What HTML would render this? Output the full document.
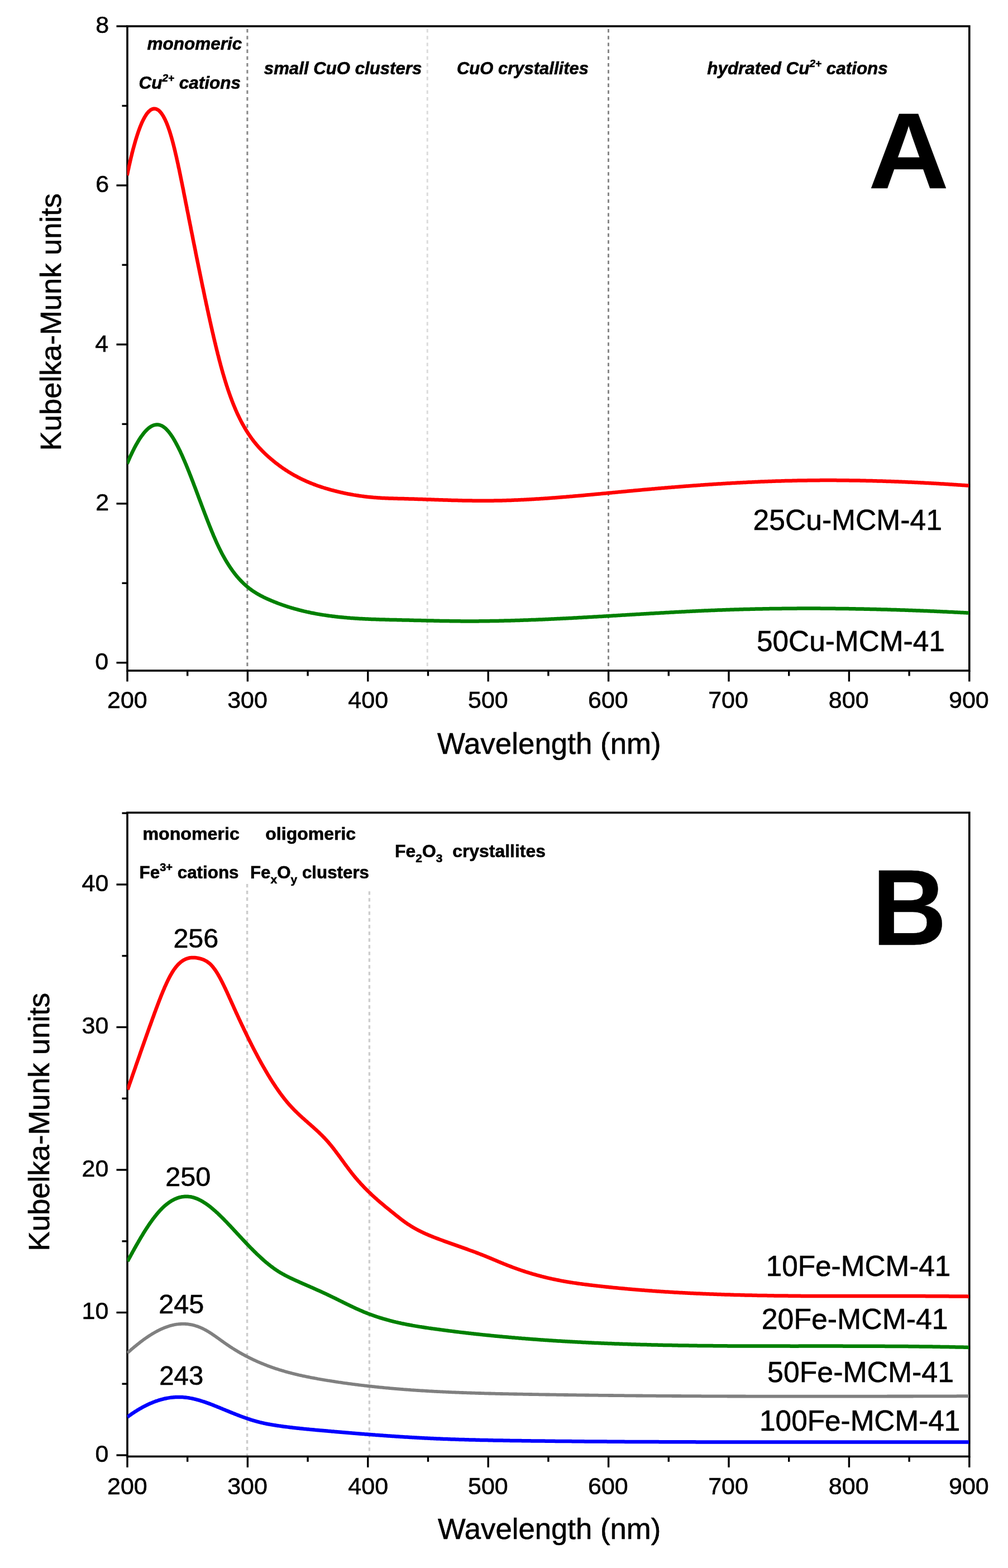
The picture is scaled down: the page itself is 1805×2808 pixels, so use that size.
<!DOCTYPE html>
<html><head><meta charset="utf-8"><title>Kubelka-Munk spectra</title>
<style>html,body{margin:0;padding:0;background:#fff;}svg{display:block;}#wrap{}text{stroke:#000;stroke-width:0.6px;}</style>
</head><body><div id="wrap">
<svg xmlns="http://www.w3.org/2000/svg" width="1805" height="2808" viewBox="0 0 1805 2808">
<rect width="1805" height="2808" fill="#fff"/>
<line x1="442.9" y1="52" x2="442.9" y2="1199.5" stroke="#888" stroke-width="3" stroke-dasharray="6.3 5.9" stroke-dashoffset="0"/>
<line x1="765.3" y1="52" x2="765.3" y2="1199.5" stroke="#dcdcdc" stroke-width="3" stroke-dasharray="6.3 5.9" stroke-dashoffset="0"/>
<line x1="1089.5" y1="52" x2="1089.5" y2="1199.5" stroke="#888" stroke-width="3" stroke-dasharray="6.3 5.9" stroke-dashoffset="0"/>
<line x1="442.6" y1="1583" x2="442.6" y2="2606.8" stroke="#cdcdcd" stroke-width="3.4" stroke-dasharray="6.3 5.7" stroke-dashoffset="0"/>
<line x1="661.4" y1="1596.3" x2="661.4" y2="2606.8" stroke="#cdcdcd" stroke-width="3.4" stroke-dasharray="6.3 5.7" stroke-dashoffset="0"/>
<line x1="228" y1="1201" x2="228" y2="1220.5" stroke="#000" stroke-width="3.4"/>
<line x1="443.4" y1="1201" x2="443.4" y2="1220.5" stroke="#000" stroke-width="3.4"/>
<line x1="658.8" y1="1201" x2="658.8" y2="1220.5" stroke="#000" stroke-width="3.4"/>
<line x1="874.2" y1="1201" x2="874.2" y2="1220.5" stroke="#000" stroke-width="3.4"/>
<line x1="1089.6" y1="1201" x2="1089.6" y2="1220.5" stroke="#000" stroke-width="3.4"/>
<line x1="1305" y1="1201" x2="1305" y2="1220.5" stroke="#000" stroke-width="3.4"/>
<line x1="1520.4" y1="1201" x2="1520.4" y2="1220.5" stroke="#000" stroke-width="3.4"/>
<line x1="1735.8" y1="1201" x2="1735.8" y2="1220.5" stroke="#000" stroke-width="3.4"/>
<line x1="335.7" y1="1201" x2="335.7" y2="1210.5" stroke="#000" stroke-width="3.4"/>
<line x1="551.1" y1="1201" x2="551.1" y2="1210.5" stroke="#000" stroke-width="3.4"/>
<line x1="766.5" y1="1201" x2="766.5" y2="1210.5" stroke="#000" stroke-width="3.4"/>
<line x1="981.9" y1="1201" x2="981.9" y2="1210.5" stroke="#000" stroke-width="3.4"/>
<line x1="1197.3" y1="1201" x2="1197.3" y2="1210.5" stroke="#000" stroke-width="3.4"/>
<line x1="1412.7" y1="1201" x2="1412.7" y2="1210.5" stroke="#000" stroke-width="3.4"/>
<line x1="1628.1" y1="1201" x2="1628.1" y2="1210.5" stroke="#000" stroke-width="3.4"/>
<line x1="228" y1="2608.3" x2="228" y2="2627.8" stroke="#000" stroke-width="3.4"/>
<line x1="443.4" y1="2608.3" x2="443.4" y2="2627.8" stroke="#000" stroke-width="3.4"/>
<line x1="658.8" y1="2608.3" x2="658.8" y2="2627.8" stroke="#000" stroke-width="3.4"/>
<line x1="874.2" y1="2608.3" x2="874.2" y2="2627.8" stroke="#000" stroke-width="3.4"/>
<line x1="1089.6" y1="2608.3" x2="1089.6" y2="2627.8" stroke="#000" stroke-width="3.4"/>
<line x1="1305" y1="2608.3" x2="1305" y2="2627.8" stroke="#000" stroke-width="3.4"/>
<line x1="1520.4" y1="2608.3" x2="1520.4" y2="2627.8" stroke="#000" stroke-width="3.4"/>
<line x1="1735.8" y1="2608.3" x2="1735.8" y2="2627.8" stroke="#000" stroke-width="3.4"/>
<line x1="335.7" y1="2608.3" x2="335.7" y2="2617.8" stroke="#000" stroke-width="3.4"/>
<line x1="551.1" y1="2608.3" x2="551.1" y2="2617.8" stroke="#000" stroke-width="3.4"/>
<line x1="766.5" y1="2608.3" x2="766.5" y2="2617.8" stroke="#000" stroke-width="3.4"/>
<line x1="981.9" y1="2608.3" x2="981.9" y2="2617.8" stroke="#000" stroke-width="3.4"/>
<line x1="1197.3" y1="2608.3" x2="1197.3" y2="2617.8" stroke="#000" stroke-width="3.4"/>
<line x1="1412.7" y1="2608.3" x2="1412.7" y2="2617.8" stroke="#000" stroke-width="3.4"/>
<line x1="1628.1" y1="2608.3" x2="1628.1" y2="2617.8" stroke="#000" stroke-width="3.4"/>
<line x1="208.5" y1="1186.8" x2="228" y2="1186.8" stroke="#000" stroke-width="3.4"/>
<line x1="208.5" y1="901.9" x2="228" y2="901.9" stroke="#000" stroke-width="3.4"/>
<line x1="208.5" y1="616.9" x2="228" y2="616.9" stroke="#000" stroke-width="3.4"/>
<line x1="208.5" y1="332" x2="228" y2="332" stroke="#000" stroke-width="3.4"/>
<line x1="208.5" y1="47" x2="228" y2="47" stroke="#000" stroke-width="3.4"/>
<line x1="218.5" y1="1044.3" x2="228" y2="1044.3" stroke="#000" stroke-width="3.4"/>
<line x1="218.5" y1="759.4" x2="228" y2="759.4" stroke="#000" stroke-width="3.4"/>
<line x1="218.5" y1="474.4" x2="228" y2="474.4" stroke="#000" stroke-width="3.4"/>
<line x1="218.5" y1="189.5" x2="228" y2="189.5" stroke="#000" stroke-width="3.4"/>
<line x1="208.5" y1="2606" x2="228" y2="2606" stroke="#000" stroke-width="3.4"/>
<line x1="208.5" y1="2350.5" x2="228" y2="2350.5" stroke="#000" stroke-width="3.4"/>
<line x1="208.5" y1="2095" x2="228" y2="2095" stroke="#000" stroke-width="3.4"/>
<line x1="208.5" y1="1839.5" x2="228" y2="1839.5" stroke="#000" stroke-width="3.4"/>
<line x1="208.5" y1="1584" x2="228" y2="1584" stroke="#000" stroke-width="3.4"/>
<line x1="218.5" y1="2478.2" x2="228" y2="2478.2" stroke="#000" stroke-width="3.4"/>
<line x1="218.5" y1="2222.8" x2="228" y2="2222.8" stroke="#000" stroke-width="3.4"/>
<line x1="218.5" y1="1967.2" x2="228" y2="1967.2" stroke="#000" stroke-width="3.4"/>
<line x1="218.5" y1="1711.8" x2="228" y2="1711.8" stroke="#000" stroke-width="3.4"/>
<line x1="218.5" y1="1456.2" x2="228" y2="1456.2" stroke="#000" stroke-width="3.4"/>
<rect x="228" y="47" width="1507.8" height="1154" fill="none" stroke="#000" stroke-width="3.6"/>
<rect x="228" y="1455.3" width="1507.8" height="1153" fill="none" stroke="#000" stroke-width="3.6"/>
<defs><clipPath id="ca"><rect x="227.6" y="47.0" width="1507.6000000000001" height="1154.0"/></clipPath>
<clipPath id="cb"><rect x="227.6" y="1455.3" width="1507.6000000000001" height="1153.0000000000002"/></clipPath></defs>
<path d="M227.6 314L227.9 312.5L228.2 311.1L228.5 309.6L228.8 308.2L229.1 306.7L229.4 305.2L229.7 303.8L230.1 302.3L230.4 300.8L230.7 299.4L231 297.9L231.3 296.5L231.7 295L232 293.5L232.3 292.1L232.7 290.6L233 289.2L233.3 287.7L233.7 286.3L234 284.8L234.3 283.4L234.7 281.9L235 280.4L235.4 279L235.8 277.5L236.1 276.1L236.5 274.6L236.8 273.2L237.2 271.7L237.6 270.3L237.9 268.9L238.3 267.4L238.7 266L239.1 264.5L239.5 263.1L239.9 261.6L240.3 260.2L240.7 258.8L241.1 257.3L241.5 255.9L241.9 254.5L242.3 253L242.7 251.6L243.2 250.2L243.6 248.7L244 247.3L244.5 245.9L244.9 244.5L245.4 243L245.8 241.6L246.3 240.2L246.8 238.8L247.2 237.4L247.7 236L248.2 234.6L248.7 233.2L249.2 231.8L249.7 230.4L250.3 229L250.8 227.6L251.3 226.2L251.9 224.8L252.5 223.5L253 222.1L253.6 220.7L254.2 219.4L254.8 218L255.5 216.7L256.1 215.4L256.8 214L257.5 212.7L258.2 211.4L258.9 210.1L259.6 208.9L260.4 207.6L261.2 206.4L262 205.1L262.8 203.9L263.7 202.8L264.7 201.6L265.6 200.5L266.7 199.5L267.7 198.5L268.9 197.6L270 196.7L271.3 196L272.6 195.4L274.1 195L275.5 194.7L277 194.7L278.5 194.9L280 195.3L281.4 196L282.7 196.7L284 197.6L285.2 198.6L286.3 199.7L287.3 200.8L288.3 202L289.2 203.2L290.1 204.5L291 205.8L291.8 207.1L292.6 208.4L293.3 209.7L294 211.1L294.7 212.4L295.4 213.8L296.1 215.2L296.7 216.6L297.3 217.9L297.9 219.3L298.5 220.7L299.1 222.1L299.6 223.6L300.2 225L300.7 226.4L301.2 227.8L301.7 229.2L302.2 230.7L302.7 232.1L303.2 233.5L303.7 235L304.1 236.4L304.6 237.9L305 239.3L305.5 240.8L305.9 242.2L306.3 243.7L306.8 245.1L307.2 246.6L307.6 248L308 249.5L308.4 250.9L308.8 252.4L309.2 253.8L309.6 255.3L309.9 256.7L310.3 258.2L310.7 259.7L311.1 261.1L311.4 262.6L311.8 264L312.2 265.5L312.5 267L312.9 268.4L313.2 269.9L313.6 271.4L313.9 272.8L314.3 274.3L314.6 275.8L314.9 277.2L315.3 278.7L315.6 280.2L316 281.6L316.3 283.1L316.6 284.6L316.9 286L317.3 287.5L317.6 289L317.9 290.4L318.2 291.9L318.6 293.4L318.9 294.8L319.2 296.3L319.5 297.8L319.8 299.3L320.1 300.7L320.5 302.2L320.8 303.7L321.1 305.1L321.4 306.6L321.7 308.1L322 309.5L322.3 311L322.6 312.5L322.9 314L323.2 315.4L323.5 316.9L323.8 318.4L324.1 319.8L324.4 321.3L324.7 322.8L325 324.3L325.3 325.7L325.6 327.2L325.9 328.7L326.2 330.1L326.5 331.6L326.8 333.1L327.1 334.6L327.4 336L327.7 337.5L328 339L328.3 340.4L328.6 341.9L328.8 343.4L329.1 344.9L329.4 346.3L329.7 347.8L330 349.3L330.3 350.8L330.6 352.2L330.9 353.7L331.2 355.2L331.5 356.6L331.8 358.1L332 359.6L332.3 361.1L332.6 362.5L332.9 364L333.2 365.5L333.5 366.9L333.8 368.4L334.1 369.9L334.4 371.4L334.7 372.8L334.9 374.3L335.2 375.8L335.5 377.2L335.8 378.7L336.1 380.2L336.4 381.7L336.7 383.1L337 384.6L337.3 386.1L337.6 387.5L337.9 389L338.1 390.5L338.4 392L338.7 393.4L339 394.9L339.3 396.4L339.6 397.8L339.9 399.3L340.2 400.8L340.5 402.3L340.8 403.7L341.1 405.2L341.4 406.7L341.6 408.1L341.9 409.6L342.2 411.1L342.5 412.6L342.8 414L343.1 415.5L343.4 417L343.7 418.4L344 419.9L344.3 421.4L344.6 422.8L344.9 424.3L345.2 425.8L345.4 427.3L345.7 428.7L346 430.2L346.3 431.7L346.6 433.1L346.9 434.6L347.2 436.1L347.5 437.6L347.8 439L348.1 440.5L348.4 442L348.7 443.4L349 444.9L349.3 446.4L349.6 447.8L349.9 449.3L350.2 450.8L350.4 452.3L350.7 453.7L351 455.2L351.3 456.7L351.6 458.1L351.9 459.6L352.2 461.1L352.5 462.5L352.8 464L353.1 465.5L353.4 467L353.7 468.4L354 469.9L354.3 471.4L354.6 472.8L354.9 474.3L355.2 475.8L355.5 477.2L355.8 478.7L356.1 480.2L356.4 481.7L356.7 483.1L357 484.6L357.3 486.1L357.6 487.5L357.9 489L358.2 490.5L358.5 491.9L358.8 493.4L359.1 494.9L359.4 496.3L359.7 497.8L360 499.3L360.3 500.7L360.6 502.2L360.9 503.7L361.2 505.2L361.5 506.6L361.8 508.1L362.1 509.6L362.4 511L362.7 512.5L363 514L363.3 515.4L363.7 516.9L364 518.4L364.3 519.8L364.6 521.3L364.9 522.8L365.2 524.2L365.5 525.7L365.8 527.2L366.1 528.6L366.4 530.1L366.7 531.6L367 533L367.3 534.5L367.7 536L368 537.4L368.3 538.9L368.6 540.4L368.9 541.8L369.2 543.3L369.5 544.8L369.8 546.2L370.2 547.7L370.5 549.2L370.8 550.6L371.1 552.1L371.4 553.6L371.7 555L372.1 556.5L372.4 558L372.7 559.4L373 560.9L373.3 562.3L373.6 563.8L374 565.3L374.3 566.7L374.6 568.2L374.9 569.7L375.3 571.1L375.6 572.6L375.9 574.1L376.2 575.5L376.6 577L376.9 578.4L377.2 579.9L377.5 581.4L377.9 582.8L378.2 584.3L378.5 585.8L378.9 587.2L379.2 588.7L379.5 590.1L379.8 591.6L380.2 593.1L380.5 594.5L380.9 596L381.2 597.4L381.5 598.9L381.9 600.4L382.2 601.8L382.5 603.3L382.9 604.7L383.2 606.2L383.6 607.6L383.9 609.1L384.3 610.6L384.6 612L385 613.5L385.3 614.9L385.7 616.4L386 617.8L386.4 619.3L386.7 620.8L387.1 622.2L387.4 623.7L387.8 625.1L388.1 626.6L388.5 628L388.9 629.5L389.2 630.9L389.6 632.4L389.9 633.8L390.3 635.3L390.7 636.7L391.1 638.2L391.4 639.6L391.8 641.1L392.2 642.5L392.5 644L392.9 645.4L393.3 646.9L393.7 648.3L394.1 649.8L394.5 651.2L394.8 652.7L395.2 654.1L395.6 655.6L396 657L396.4 658.4L396.8 659.9L397.2 661.3L397.6 662.8L398 664.2L398.4 665.6L398.8 667.1L399.2 668.5L399.6 670L400.1 671.4L400.5 672.8L400.9 674.3L401.3 675.7L401.8 677.1L402.2 678.6L402.6 680L403.1 681.4L403.5 682.9L403.9 684.3L404.4 685.7L404.8 687.1L405.3 688.6L405.7 690L406.2 691.4L406.7 692.8L407.1 694.2L407.6 695.7L408.1 697.1L408.5 698.5L409 699.9L409.5 701.3L410 702.7L410.5 704.2L411 705.6L411.5 707L412 708.4L412.5 709.8L413 711.2L413.5 712.6L414 714L414.6 715.4L415.1 716.8L415.6 718.2L416.2 719.6L416.7 721L417.2 722.4L417.8 723.7L418.3 725.1L418.9 726.5L419.5 727.9L420.1 729.3L420.6 730.6L421.2 732L421.8 733.4L422.4 734.8L423 736.1L423.6 737.5L424.2 738.9L424.8 740.2L425.4 741.6L426.1 742.9L426.7 744.3L427.4 745.6L428 747L428.7 748.3L429.3 749.7L430 751L430.7 752.3L431.3 753.6L432 755L432.7 756.3L433.4 757.6L434.1 758.9L434.8 760.2L435.6 761.5L436.3 762.8L437 764.1L437.8 765.4L438.5 766.7L439.3 768L440.1 769.3L440.8 770.6L441.6 771.8L442.4 773.1L443.2 774.3L444 775.6L444.8 776.8L445.7 778.1L446.5 779.3L447.4 780.6L448.2 781.8L449.1 783L449.9 784.2L450.8 785.4L451.7 786.6L452.6 787.8L453.5 789L454.4 790.2L455.3 791.4L456.3 792.5L457.2 793.7L458.2 794.8L459.1 796L460.1 797.1L461.1 798.2L462 799.4L463 800.5L464 801.6L465.1 802.7L466.1 803.8L467.1 804.9L468.1 805.9L469.2 807L470.2 808.1L471.3 809.1L472.4 810.2L473.4 811.2L474.5 812.3L475.6 813.3L476.7 814.3L477.8 815.3L478.9 816.3L480 817.3L481.1 818.3L482.2 819.3L483.4 820.3L484.5 821.3L485.6 822.2L486.8 823.2L487.9 824.2L489.1 825.1L490.2 826.1L491.4 827L492.6 828L493.7 828.9L494.9 829.8L496.1 830.7L497.3 831.6L498.5 832.5L499.7 833.4L500.9 834.3L502.1 835.2L503.3 836.1L504.5 836.9L505.8 837.8L507 838.7L508.2 839.5L509.5 840.3L510.7 841.2L512 842L513.2 842.8L514.5 843.6L515.7 844.4L517 845.2L518.3 846L519.6 846.8L520.9 847.6L522.1 848.3L523.4 849.1L524.7 849.8L526 850.6L527.3 851.3L528.6 852L530 852.7L531.3 853.4L532.6 854.1L533.9 854.8L535.3 855.5L536.6 856.2L537.9 856.9L539.3 857.5L540.6 858.2L542 858.8L543.3 859.5L544.7 860.1L546.1 860.7L547.4 861.3L548.8 862L550.2 862.6L551.5 863.1L552.9 863.7L554.3 864.3L555.7 864.9L557.1 865.4L558.5 866L559.9 866.5L561.3 867.1L562.7 867.6L564.1 868.1L565.5 868.7L566.9 869.2L568.3 869.7L569.7 870.2L571.1 870.7L572.5 871.1L574 871.6L575.4 872.1L576.8 872.6L578.2 873L579.7 873.5L581.1 873.9L582.5 874.4L584 874.8L585.4 875.2L586.8 875.6L588.3 876L589.7 876.5L591.2 876.9L592.6 877.3L594.1 877.7L595.5 878L597 878.4L598.4 878.8L599.9 879.2L601.3 879.5L602.8 879.9L604.2 880.3L605.7 880.6L607.1 881L608.6 881.3L610.1 881.7L611.5 882L613 882.3L614.4 882.6L615.9 883L617.4 883.3L618.8 883.6L620.3 883.9L621.8 884.2L623.3 884.5L624.7 884.7L626.2 885L627.7 885.3L629.2 885.6L630.6 885.8L632.1 886.1L633.6 886.4L635.1 886.6L636.5 886.8L638 887.1L639.5 887.3L641 887.5L642.5 887.8L644 888L645.4 888.2L646.9 888.4L648.4 888.6L649.9 888.8L651.4 889L652.9 889.2L654.4 889.4L655.8 889.5L657.3 889.7L658.8 889.9L660.3 890L661.8 890.2L663.3 890.3L664.8 890.5L666.3 890.6L667.8 890.7L669.3 890.9L670.8 891L672.3 891.1L673.8 891.2L675.3 891.3L676.8 891.4L678.3 891.5L679.7 891.6L681.2 891.7L682.7 891.8L684.2 891.9L685.7 891.9L687.2 892L688.7 892.1L690.2 892.2L691.7 892.2L693.2 892.3L694.7 892.3L696.2 892.4L697.7 892.4L699.2 892.5L700.7 892.5L702.2 892.6L703.7 892.6L705.2 892.7L706.7 892.7L708.2 892.7L709.7 892.8L711.2 892.8L712.7 892.9L714.2 892.9L715.7 892.9L717.2 893L718.7 893L720.2 893L721.7 893.1L723.2 893.1L724.7 893.2L726.2 893.2L727.7 893.2L729.2 893.3L730.7 893.3L732.2 893.4L733.7 893.4L735.2 893.5L736.7 893.5L738.2 893.5L739.7 893.6L741.2 893.6L742.7 893.7L744.2 893.7L745.7 893.8L747.2 893.8L748.7 893.9L750.2 893.9L751.7 894L753.2 894L754.7 894.1L756.2 894.1L757.7 894.2L759.2 894.2L760.7 894.3L762.2 894.3L763.7 894.4L765.2 894.4L766.7 894.5L768.2 894.5L769.7 894.6L771.2 894.6L772.7 894.7L774.2 894.7L775.7 894.8L777.2 894.8L778.7 894.9L780.2 894.9L781.7 895L783.2 895.1L784.7 895.1L786.2 895.2L787.7 895.2L789.2 895.3L790.7 895.3L792.2 895.3L793.7 895.4L795.2 895.4L796.7 895.5L798.2 895.5L799.7 895.6L801.2 895.6L802.7 895.7L804.2 895.7L805.7 895.8L807.2 895.8L808.7 895.9L810.2 895.9L811.7 895.9L813.2 896L814.7 896L816.2 896.1L817.7 896.1L819.2 896.1L820.7 896.2L822.2 896.2L823.7 896.2L825.2 896.3L826.7 896.3L828.2 896.4L829.7 896.4L831.2 896.4L832.7 896.4L834.2 896.5L835.7 896.5L837.2 896.5L838.7 896.6L840.2 896.6L841.7 896.6L843.2 896.6L844.7 896.6L846.2 896.7L847.7 896.7L849.2 896.7L850.7 896.7L852.2 896.7L853.7 896.7L855.2 896.7L856.7 896.8L858.2 896.8L859.7 896.8L861.2 896.8L862.7 896.8L864.2 896.8L865.7 896.8L867.2 896.8L868.7 896.8L870.2 896.8L871.7 896.8L873.2 896.8L874.7 896.7L876.2 896.7L877.7 896.7L879.2 896.7L880.7 896.7L882.2 896.7L883.7 896.7L885.2 896.6L886.7 896.6L888.2 896.6L889.7 896.6L891.2 896.5L892.7 896.5L894.2 896.5L895.7 896.4L897.2 896.4L898.7 896.4L900.2 896.3L901.7 896.3L903.2 896.2L904.7 896.2L906.2 896.2L907.7 896.1L909.2 896.1L910.7 896L912.2 896L913.7 895.9L915.2 895.9L916.7 895.8L918.2 895.7L919.7 895.7L921.2 895.6L922.7 895.6L924.1 895.5L925.6 895.4L927.1 895.4L928.6 895.3L930.1 895.2L931.6 895.2L933.1 895.1L934.6 895L936.1 895L937.6 894.9L939.1 894.8L940.6 894.7L942.1 894.7L943.6 894.6L945.1 894.5L946.6 894.4L948.1 894.3L949.6 894.3L951.1 894.2L952.6 894.1L954.1 894L955.6 893.9L957.1 893.8L958.6 893.7L960.1 893.6L961.6 893.6L963.1 893.5L964.6 893.4L966.1 893.3L967.6 893.2L969.1 893.1L970.6 893L972.1 892.9L973.6 892.8L975.1 892.7L976.6 892.6L978.1 892.5L979.6 892.4L981.1 892.3L982.6 892.2L984 892L985.5 891.9L987 891.8L988.5 891.7L990 891.6L991.5 891.5L993 891.4L994.5 891.3L996 891.2L997.5 891L999 890.9L1000.5 890.8L1002 890.7L1003.5 890.6L1005 890.5L1006.5 890.3L1008 890.2L1009.5 890.1L1011 890L1012.5 889.9L1014 889.7L1015.5 889.6L1016.9 889.5L1018.4 889.4L1019.9 889.2L1021.4 889.1L1022.9 889L1024.4 888.9L1025.9 888.7L1027.4 888.6L1028.9 888.5L1030.4 888.3L1031.9 888.2L1033.4 888.1L1034.9 887.9L1036.4 887.8L1037.9 887.7L1039.4 887.6L1040.9 887.4L1042.4 887.3L1043.8 887.2L1045.3 887L1046.8 886.9L1048.3 886.7L1049.8 886.6L1051.3 886.5L1052.8 886.3L1054.3 886.2L1055.8 886.1L1057.3 885.9L1058.8 885.8L1060.3 885.7L1061.8 885.5L1063.3 885.4L1064.8 885.2L1066.3 885.1L1067.7 885L1069.2 884.8L1070.7 884.7L1072.2 884.5L1073.7 884.4L1075.2 884.3L1076.7 884.1L1078.2 884L1079.7 883.8L1081.2 883.7L1082.7 883.6L1084.2 883.4L1085.7 883.3L1087.2 883.1L1088.7 883L1090.1 882.8L1091.6 882.7L1093.1 882.6L1094.6 882.4L1096.1 882.3L1097.6 882.1L1099.1 882L1100.6 881.9L1102.1 881.7L1103.6 881.6L1105.1 881.4L1106.6 881.3L1108.1 881.1L1109.6 881L1111.1 880.9L1112.5 880.7L1114 880.6L1115.5 880.4L1117 880.3L1118.5 880.2L1120 880L1121.5 879.9L1123 879.7L1124.5 879.6L1126 879.5L1127.5 879.3L1129 879.2L1130.5 879L1132 878.9L1133.5 878.8L1134.9 878.6L1136.4 878.5L1137.9 878.3L1139.4 878.2L1140.9 878.1L1142.4 877.9L1143.9 877.8L1145.4 877.7L1146.9 877.5L1148.4 877.4L1149.9 877.2L1151.4 877.1L1152.9 877L1154.4 876.8L1155.9 876.7L1157.4 876.6L1158.9 876.4L1160.3 876.3L1161.8 876.2L1163.3 876L1164.8 875.9L1166.3 875.8L1167.8 875.6L1169.3 875.5L1170.8 875.4L1172.3 875.3L1173.8 875.1L1175.3 875L1176.8 874.9L1178.3 874.7L1179.8 874.6L1181.3 874.5L1182.8 874.4L1184.3 874.2L1185.7 874.1L1187.2 874L1188.7 873.9L1190.2 873.7L1191.7 873.6L1193.2 873.5L1194.7 873.4L1196.2 873.2L1197.7 873.1L1199.2 873L1200.7 872.9L1202.2 872.7L1203.7 872.6L1205.2 872.5L1206.7 872.4L1208.2 872.3L1209.7 872.1L1211.2 872L1212.7 871.9L1214.2 871.8L1215.6 871.7L1217.1 871.5L1218.6 871.4L1220.1 871.3L1221.6 871.2L1223.1 871.1L1224.6 871L1226.1 870.8L1227.6 870.7L1229.1 870.6L1230.6 870.5L1232.1 870.4L1233.6 870.3L1235.1 870.2L1236.6 870L1238.1 869.9L1239.6 869.8L1241.1 869.7L1242.6 869.6L1244.1 869.5L1245.6 869.4L1247.1 869.3L1248.6 869.2L1250.1 869.1L1251.5 869L1253 868.9L1254.5 868.7L1256 868.6L1257.5 868.5L1259 868.4L1260.5 868.3L1262 868.2L1263.5 868.1L1265 868L1266.5 867.9L1268 867.8L1269.5 867.7L1271 867.6L1272.5 867.5L1274 867.4L1275.5 867.3L1277 867.2L1278.5 867.1L1280 867L1281.5 866.9L1283 866.8L1284.5 866.7L1286 866.6L1287.5 866.6L1289 866.5L1290.5 866.4L1292 866.3L1293.5 866.2L1295 866.1L1296.4 866L1297.9 865.9L1299.4 865.8L1300.9 865.7L1302.4 865.6L1303.9 865.6L1305.4 865.5L1306.9 865.4L1308.4 865.3L1309.9 865.2L1311.4 865.1L1312.9 865L1314.4 865L1315.9 864.9L1317.4 864.8L1318.9 864.7L1320.4 864.6L1321.9 864.6L1323.4 864.5L1324.9 864.4L1326.4 864.3L1327.9 864.2L1329.4 864.2L1330.9 864.1L1332.4 864L1333.9 863.9L1335.4 863.9L1336.9 863.8L1338.4 863.7L1339.9 863.6L1341.4 863.6L1342.9 863.5L1344.4 863.4L1345.9 863.4L1347.4 863.3L1348.9 863.2L1350.4 863.2L1351.9 863.1L1353.4 863L1354.9 863L1356.4 862.9L1357.9 862.8L1359.4 862.8L1360.9 862.7L1362.4 862.6L1363.9 862.6L1365.4 862.5L1366.9 862.5L1368.4 862.4L1369.9 862.3L1371.4 862.3L1372.9 862.2L1374.4 862.2L1375.9 862.1L1377.3 862.1L1378.8 862L1380.3 861.9L1381.8 861.9L1383.3 861.8L1384.8 861.8L1386.3 861.7L1387.8 861.7L1389.3 861.6L1390.8 861.6L1392.3 861.5L1393.8 861.5L1395.3 861.5L1396.8 861.4L1398.3 861.4L1399.8 861.3L1401.3 861.3L1402.8 861.2L1404.3 861.2L1405.8 861.1L1407.3 861.1L1408.8 861.1L1410.3 861L1411.8 861L1413.3 861L1414.8 860.9L1416.3 860.9L1417.8 860.9L1419.3 860.8L1420.8 860.8L1422.3 860.8L1423.8 860.7L1425.3 860.7L1426.8 860.7L1428.3 860.6L1429.8 860.6L1431.3 860.6L1432.8 860.5L1434.3 860.5L1435.8 860.5L1437.3 860.5L1438.8 860.4L1440.3 860.4L1441.8 860.4L1443.3 860.4L1444.8 860.4L1446.3 860.3L1447.8 860.3L1449.3 860.3L1450.8 860.3L1452.3 860.3L1453.8 860.3L1455.3 860.2L1456.8 860.2L1458.3 860.2L1459.8 860.2L1461.3 860.2L1462.8 860.2L1464.3 860.2L1465.8 860.2L1467.3 860.2L1468.8 860.1L1470.3 860.1L1471.8 860.1L1473.3 860.1L1474.8 860.1L1476.3 860.1L1477.8 860.1L1479.3 860.1L1480.8 860.1L1482.3 860.1L1483.8 860.1L1485.3 860.1L1486.8 860.1L1488.3 860.1L1489.8 860.1L1491.3 860.1L1492.8 860.1L1494.3 860.1L1495.8 860.1L1497.3 860.1L1498.8 860.2L1500.3 860.2L1501.8 860.2L1503.3 860.2L1504.8 860.2L1506.3 860.2L1507.8 860.2L1509.3 860.2L1510.8 860.2L1512.3 860.3L1513.8 860.3L1515.3 860.3L1516.8 860.3L1518.3 860.3L1519.8 860.3L1521.3 860.4L1522.8 860.4L1524.3 860.4L1525.8 860.4L1527.3 860.4L1528.8 860.5L1530.3 860.5L1531.8 860.5L1533.3 860.5L1534.8 860.6L1536.3 860.6L1537.8 860.6L1539.3 860.6L1540.8 860.7L1542.3 860.7L1543.8 860.7L1545.3 860.7L1546.8 860.8L1548.3 860.8L1549.8 860.8L1551.3 860.9L1552.8 860.9L1554.3 860.9L1555.8 861L1557.3 861L1558.8 861L1560.3 861.1L1561.8 861.1L1563.3 861.2L1564.8 861.2L1566.3 861.2L1567.8 861.3L1569.3 861.3L1570.8 861.4L1572.3 861.4L1573.8 861.4L1575.3 861.5L1576.8 861.5L1578.3 861.6L1579.8 861.6L1581.3 861.7L1582.8 861.7L1584.3 861.8L1585.8 861.8L1587.3 861.9L1588.8 861.9L1590.3 862L1591.8 862L1593.3 862.1L1594.8 862.1L1596.3 862.2L1597.8 862.2L1599.3 862.3L1600.8 862.3L1602.3 862.4L1603.8 862.4L1605.3 862.5L1606.8 862.6L1608.3 862.6L1609.8 862.7L1611.3 862.7L1612.8 862.8L1614.3 862.8L1615.8 862.9L1617.3 863L1618.8 863L1620.3 863.1L1621.8 863.2L1623.3 863.2L1624.8 863.3L1626.3 863.4L1627.8 863.4L1629.3 863.5L1630.8 863.6L1632.3 863.6L1633.8 863.7L1635.3 863.8L1636.8 863.8L1638.3 863.9L1639.8 864L1641.3 864L1642.8 864.1L1644.3 864.2L1645.8 864.3L1647.3 864.3L1648.8 864.4L1650.3 864.5L1651.7 864.6L1653.2 864.6L1654.7 864.7L1656.2 864.8L1657.7 864.9L1659.2 864.9L1660.7 865L1662.2 865.1L1663.7 865.2L1665.2 865.3L1666.7 865.3L1668.2 865.4L1669.7 865.5L1671.2 865.6L1672.7 865.7L1674.2 865.8L1675.7 865.8L1677.2 865.9L1678.7 866L1680.2 866.1L1681.7 866.2L1683.2 866.3L1684.7 866.4L1686.2 866.5L1687.7 866.5L1689.2 866.6L1690.7 866.7L1692.2 866.8L1693.7 866.9L1695.2 867L1696.7 867.1L1698.2 867.2L1699.7 867.3L1701.2 867.4L1702.7 867.5L1704.2 867.6L1705.7 867.7L1707.2 867.8L1708.7 867.9L1710.2 868L1711.6 868.1L1713.1 868.2L1714.6 868.3L1716.1 868.4L1717.6 868.5L1719.1 868.6L1720.6 868.7L1722.1 868.8L1723.6 868.9L1725.1 869L1726.6 869.1L1728.1 869.2L1729.6 869.3L1731.1 869.4L1732.6 869.5L1734.1 869.6L1735 869.7" fill="none" stroke="#ff0000" stroke-width="6.5" stroke-linejoin="round" stroke-linecap="butt" clip-path="url(#ca)"/>
<path d="M227.6 830.5L228.2 829.1L228.8 827.7L229.4 826.4L230 825L230.6 823.6L231.2 822.2L231.8 820.9L232.4 819.5L233 818.2L233.6 816.8L234.2 815.4L234.9 814.1L235.5 812.7L236.2 811.4L236.8 810L237.5 808.7L238.1 807.4L238.8 806L239.5 804.7L240.1 803.4L240.8 802L241.5 800.7L242.2 799.4L242.9 798.1L243.6 796.8L244.4 795.5L245.1 794.2L245.9 792.9L246.6 791.6L247.4 790.3L248.1 789.1L248.9 787.8L249.7 786.5L250.5 785.3L251.3 784L252.2 782.8L253 781.6L253.9 780.4L254.8 779.2L255.7 778L256.6 776.8L257.5 775.6L258.4 774.5L259.4 773.4L260.4 772.3L261.4 771.2L262.5 770.1L263.5 769.1L264.6 768.1L265.7 767.1L266.9 766.2L268.1 765.3L269.3 764.5L270.5 763.7L271.8 763L273.2 762.3L274.5 761.8L275.9 761.3L277.4 760.9L278.8 760.7L280.3 760.5L281.8 760.5L283.3 760.6L284.8 760.8L286.3 761.2L287.7 761.7L289.1 762.2L290.5 762.9L291.8 763.7L293.1 764.6L294.3 765.5L295.5 766.4L296.6 767.4L297.7 768.5L298.8 769.6L299.8 770.7L300.8 771.8L301.8 773L302.8 774.2L303.7 775.4L304.6 776.6L305.5 777.8L306.4 779.1L307.2 780.3L308.1 781.6L308.9 782.8L309.7 784.1L310.5 785.4L311.3 786.7L312 788L312.8 789.3L313.5 790.6L314.3 791.9L315 793.3L315.7 794.6L316.4 795.9L317.1 797.2L317.8 798.6L318.5 799.9L319.2 801.3L319.9 802.6L320.5 804L321.2 805.3L321.9 806.7L322.5 808L323.2 809.4L323.8 810.8L324.4 812.1L325.1 813.5L325.7 814.9L326.3 816.2L326.9 817.6L327.5 819L328.1 820.4L328.7 821.8L329.3 823.1L329.9 824.5L330.5 825.9L331.1 827.3L331.7 828.7L332.3 830.1L332.9 831.4L333.4 832.8L334 834.2L334.6 835.6L335.1 837L335.7 838.4L336.3 839.8L336.8 841.2L337.4 842.6L338 844L338.5 845.4L339.1 846.8L339.6 848.2L340.2 849.6L340.7 851L341.3 852.4L341.8 853.8L342.4 855.2L342.9 856.6L343.4 858L344 859.4L344.5 860.8L345.1 862.2L345.6 863.6L346.1 865L346.7 866.4L347.2 867.8L347.7 869.2L348.3 870.6L348.8 872L349.3 873.4L349.9 874.8L350.4 876.2L350.9 877.6L351.4 879L352 880.4L352.5 881.8L353 883.2L353.5 884.6L354.1 886L354.6 887.4L355.1 888.8L355.6 890.2L356.2 891.6L356.7 893.1L357.2 894.5L357.7 895.9L358.3 897.3L358.8 898.7L359.3 900.1L359.9 901.5L360.4 902.9L360.9 904.3L361.4 905.7L362 907.1L362.5 908.5L363 909.9L363.5 911.3L364.1 912.7L364.6 914.1L365.1 915.5L365.7 916.9L366.2 918.3L366.7 919.7L367.3 921.1L367.8 922.5L368.3 923.9L368.9 925.3L369.4 926.7L369.9 928.1L370.5 929.5L371 930.9L371.6 932.3L372.1 933.7L372.7 935.1L373.2 936.5L373.8 937.9L374.3 939.3L374.9 940.7L375.4 942.1L376 943.4L376.5 944.8L377.1 946.2L377.6 947.6L378.2 949L378.8 950.4L379.3 951.8L379.9 953.2L380.5 954.5L381.1 955.9L381.6 957.3L382.2 958.7L382.8 960.1L383.4 961.4L384 962.8L384.6 964.2L385.2 965.5L385.8 966.9L386.4 968.3L387 969.6L387.6 971L388.2 972.4L388.9 973.7L389.5 975.1L390.1 976.4L390.8 977.8L391.4 979.1L392 980.5L392.7 981.8L393.4 983.2L394 984.5L394.7 985.8L395.4 987.2L396 988.5L396.7 989.8L397.4 991.2L398.1 992.5L398.8 993.8L399.5 995.1L400.3 996.4L401 997.7L401.7 999L402.4 1000.3L403.2 1001.6L403.9 1002.9L404.7 1004.2L405.5 1005.5L406.2 1006.7L407 1008L407.8 1009.3L408.6 1010.6L409.4 1011.8L410.2 1013.1L411 1014.3L411.9 1015.6L412.7 1016.8L413.5 1018L414.4 1019.2L415.3 1020.5L416.1 1021.7L417 1022.9L417.9 1024.1L418.8 1025.3L419.7 1026.5L420.6 1027.6L421.5 1028.8L422.5 1030L423.4 1031.1L424.4 1032.3L425.3 1033.4L426.3 1034.5L427.3 1035.7L428.3 1036.8L429.3 1037.9L430.3 1039L431.4 1040L432.4 1041.1L433.4 1042.2L434.5 1043.2L435.6 1044.3L436.7 1045.3L437.8 1046.3L438.9 1047.3L440 1048.3L441.1 1049.3L442.2 1050.2L443.4 1051.2L444.5 1052.1L445.7 1053.1L446.9 1054L448.1 1054.9L449.3 1055.8L450.5 1056.7L451.7 1057.5L452.9 1058.4L454.2 1059.2L455.4 1060L456.7 1060.8L457.9 1061.6L459.2 1062.4L460.5 1063.2L461.8 1063.9L463.1 1064.7L464.4 1065.4L465.7 1066.1L467 1066.8L468.4 1067.5L469.7 1068.2L471 1068.9L472.4 1069.6L473.7 1070.2L475.1 1070.9L476.4 1071.5L477.8 1072.1L479.1 1072.7L480.5 1073.3L481.9 1073.9L483.3 1074.5L484.6 1075.1L486 1075.7L487.4 1076.3L488.8 1076.8L490.2 1077.4L491.6 1078L493 1078.5L494.4 1079.1L495.8 1079.6L497.2 1080.2L498.6 1080.7L500 1081.2L501.4 1081.7L502.8 1082.2L504.2 1082.7L505.6 1083.2L507 1083.7L508.4 1084.2L509.9 1084.7L511.3 1085.2L512.7 1085.7L514.1 1086.1L515.6 1086.6L517 1087L518.4 1087.5L519.8 1087.9L521.3 1088.4L522.7 1088.8L524.2 1089.2L525.6 1089.6L527 1090L528.5 1090.4L529.9 1090.8L531.4 1091.2L532.8 1091.6L534.3 1092L535.7 1092.4L537.2 1092.8L538.6 1093.1L540.1 1093.5L541.5 1093.9L543 1094.2L544.4 1094.6L545.9 1094.9L547.4 1095.2L548.8 1095.6L550.3 1095.9L551.8 1096.2L553.2 1096.5L554.7 1096.8L556.2 1097.2L557.6 1097.5L559.1 1097.7L560.6 1098L562 1098.3L563.5 1098.6L565 1098.9L566.5 1099.2L567.9 1099.4L569.4 1099.7L570.9 1099.9L572.4 1100.2L573.8 1100.4L575.3 1100.7L576.8 1100.9L578.3 1101.2L579.8 1101.4L581.3 1101.6L582.7 1101.8L584.2 1102.1L585.7 1102.3L587.2 1102.5L588.7 1102.7L590.2 1102.9L591.6 1103.1L593.1 1103.3L594.6 1103.5L596.1 1103.7L597.6 1103.8L599.1 1104L600.6 1104.2L602.1 1104.4L603.6 1104.5L605 1104.7L606.5 1104.9L608 1105L609.5 1105.2L611 1105.3L612.5 1105.5L614 1105.6L615.5 1105.7L617 1105.9L618.5 1106L620 1106.1L621.5 1106.3L623 1106.4L624.5 1106.5L626 1106.6L627.4 1106.8L628.9 1106.9L630.4 1107L631.9 1107.1L633.4 1107.2L634.9 1107.3L636.4 1107.4L637.9 1107.5L639.4 1107.6L640.9 1107.7L642.4 1107.8L643.9 1107.9L645.4 1107.9L646.9 1108L648.4 1108.1L649.9 1108.2L651.4 1108.3L652.9 1108.3L654.4 1108.4L655.9 1108.5L657.4 1108.6L658.9 1108.6L660.4 1108.7L661.9 1108.7L663.4 1108.8L664.9 1108.9L666.4 1108.9L667.9 1109L669.4 1109L670.9 1109.1L672.4 1109.1L673.9 1109.2L675.4 1109.2L676.9 1109.3L678.4 1109.3L679.9 1109.4L681.4 1109.4L682.9 1109.5L684.4 1109.5L685.9 1109.6L687.4 1109.6L688.9 1109.6L690.4 1109.7L691.9 1109.7L693.4 1109.8L694.9 1109.8L696.4 1109.8L697.9 1109.9L699.4 1109.9L700.9 1109.9L702.4 1110L703.9 1110L705.4 1110L706.9 1110.1L708.4 1110.1L709.9 1110.1L711.4 1110.2L712.9 1110.2L714.4 1110.2L715.9 1110.3L717.4 1110.3L718.9 1110.3L720.4 1110.4L721.9 1110.4L723.4 1110.4L724.9 1110.5L726.4 1110.5L727.9 1110.5L729.4 1110.6L730.9 1110.6L732.4 1110.6L733.9 1110.7L735.4 1110.7L736.9 1110.7L738.4 1110.8L739.9 1110.8L741.4 1110.9L742.9 1110.9L744.4 1110.9L745.9 1111L747.4 1111L748.9 1111L750.4 1111.1L751.9 1111.1L753.4 1111.1L754.9 1111.2L756.4 1111.2L757.9 1111.2L759.4 1111.3L760.9 1111.3L762.4 1111.3L763.9 1111.4L765.4 1111.4L766.9 1111.4L768.4 1111.5L769.9 1111.5L771.4 1111.5L772.9 1111.6L774.4 1111.6L775.9 1111.6L777.4 1111.7L778.8 1111.7L780.3 1111.7L781.8 1111.8L783.3 1111.8L784.8 1111.8L786.3 1111.8L787.8 1111.9L789.3 1111.9L790.8 1111.9L792.3 1111.9L793.8 1112L795.3 1112L796.8 1112L798.3 1112L799.8 1112.1L801.3 1112.1L802.8 1112.1L804.3 1112.1L805.8 1112.2L807.3 1112.2L808.8 1112.2L810.3 1112.2L811.8 1112.2L813.3 1112.3L814.8 1112.3L816.3 1112.3L817.8 1112.3L819.3 1112.3L820.8 1112.3L822.3 1112.3L823.8 1112.3L825.3 1112.4L826.8 1112.4L828.3 1112.4L829.8 1112.4L831.3 1112.4L832.8 1112.4L834.3 1112.4L835.8 1112.4L837.3 1112.4L838.8 1112.4L840.3 1112.4L841.8 1112.4L843.3 1112.4L844.8 1112.4L846.3 1112.4L847.8 1112.4L849.3 1112.4L850.8 1112.4L852.3 1112.4L853.8 1112.4L855.3 1112.4L856.8 1112.4L858.3 1112.3L859.8 1112.3L861.3 1112.3L862.8 1112.3L864.3 1112.3L865.8 1112.3L867.3 1112.3L868.8 1112.2L870.3 1112.2L871.8 1112.2L873.3 1112.2L874.8 1112.2L876.3 1112.2L877.8 1112.1L879.3 1112.1L880.8 1112.1L882.3 1112.1L883.8 1112L885.3 1112L886.8 1112L888.3 1112L889.8 1111.9L891.3 1111.9L892.8 1111.9L894.3 1111.8L895.8 1111.8L897.3 1111.8L898.8 1111.7L900.3 1111.7L901.8 1111.7L903.3 1111.6L904.8 1111.6L906.3 1111.6L907.8 1111.5L909.3 1111.5L910.8 1111.4L912.3 1111.4L913.8 1111.4L915.3 1111.3L916.8 1111.3L918.3 1111.2L919.8 1111.2L921.3 1111.2L922.8 1111.1L924.3 1111.1L925.8 1111L927.3 1111L928.8 1110.9L930.3 1110.9L931.8 1110.8L933.3 1110.8L934.8 1110.7L936.3 1110.7L937.8 1110.6L939.3 1110.6L940.8 1110.5L942.3 1110.5L943.8 1110.4L945.3 1110.4L946.8 1110.3L948.3 1110.3L949.8 1110.2L951.3 1110.1L952.8 1110.1L954.3 1110L955.8 1110L957.3 1109.9L958.8 1109.9L960.3 1109.8L961.8 1109.7L963.3 1109.7L964.8 1109.6L966.3 1109.5L967.8 1109.5L969.3 1109.4L970.8 1109.4L972.3 1109.3L973.8 1109.2L975.3 1109.2L976.8 1109.1L978.3 1109L979.8 1109L981.3 1108.9L982.8 1108.8L984.3 1108.8L985.8 1108.7L987.3 1108.6L988.8 1108.6L990.3 1108.5L991.8 1108.4L993.3 1108.3L994.8 1108.3L996.3 1108.2L997.8 1108.1L999.3 1108.1L1000.8 1108L1002.3 1107.9L1003.8 1107.8L1005.3 1107.8L1006.8 1107.7L1008.3 1107.6L1009.8 1107.5L1011.3 1107.5L1012.8 1107.4L1014.3 1107.3L1015.7 1107.2L1017.2 1107.2L1018.7 1107.1L1020.2 1107L1021.7 1106.9L1023.2 1106.9L1024.7 1106.8L1026.2 1106.7L1027.7 1106.6L1029.2 1106.5L1030.7 1106.5L1032.2 1106.4L1033.7 1106.3L1035.2 1106.2L1036.7 1106.1L1038.2 1106.1L1039.7 1106L1041.2 1105.9L1042.7 1105.8L1044.2 1105.7L1045.7 1105.6L1047.2 1105.6L1048.7 1105.5L1050.2 1105.4L1051.7 1105.3L1053.2 1105.2L1054.7 1105.1L1056.2 1105.1L1057.7 1105L1059.2 1104.9L1060.7 1104.8L1062.2 1104.7L1063.7 1104.6L1065.2 1104.5L1066.7 1104.5L1068.2 1104.4L1069.7 1104.3L1071.2 1104.2L1072.7 1104.1L1074.2 1104L1075.7 1103.9L1077.2 1103.9L1078.7 1103.8L1080.2 1103.7L1081.6 1103.6L1083.1 1103.5L1084.6 1103.4L1086.1 1103.3L1087.6 1103.2L1089.1 1103.2L1090.6 1103.1L1092.1 1103L1093.6 1102.9L1095.1 1102.8L1096.6 1102.7L1098.1 1102.6L1099.6 1102.5L1101.1 1102.4L1102.6 1102.4L1104.1 1102.3L1105.6 1102.2L1107.1 1102.1L1108.6 1102L1110.1 1101.9L1111.6 1101.8L1113.1 1101.7L1114.6 1101.6L1116.1 1101.6L1117.6 1101.5L1119.1 1101.4L1120.6 1101.3L1122.1 1101.2L1123.6 1101.1L1125.1 1101L1126.6 1100.9L1128.1 1100.8L1129.6 1100.8L1131.1 1100.7L1132.6 1100.6L1134.1 1100.5L1135.6 1100.4L1137.1 1100.3L1138.5 1100.2L1140 1100.1L1141.5 1100L1143 1100L1144.5 1099.9L1146 1099.8L1147.5 1099.7L1149 1099.6L1150.5 1099.5L1152 1099.4L1153.5 1099.3L1155 1099.3L1156.5 1099.2L1158 1099.1L1159.5 1099L1161 1098.9L1162.5 1098.8L1164 1098.7L1165.5 1098.6L1167 1098.6L1168.5 1098.5L1170 1098.4L1171.5 1098.3L1173 1098.2L1174.5 1098.1L1176 1098L1177.5 1098L1179 1097.9L1180.5 1097.8L1182 1097.7L1183.5 1097.6L1185 1097.5L1186.5 1097.4L1188 1097.4L1189.5 1097.3L1191 1097.2L1192.5 1097.1L1194 1097L1195.5 1096.9L1197 1096.9L1198.5 1096.8L1199.9 1096.7L1201.4 1096.6L1202.9 1096.5L1204.4 1096.5L1205.9 1096.4L1207.4 1096.3L1208.9 1096.2L1210.4 1096.1L1211.9 1096.1L1213.4 1096L1214.9 1095.9L1216.4 1095.8L1217.9 1095.7L1219.4 1095.7L1220.9 1095.6L1222.4 1095.5L1223.9 1095.4L1225.4 1095.4L1226.9 1095.3L1228.4 1095.2L1229.9 1095.1L1231.4 1095.1L1232.9 1095L1234.4 1094.9L1235.9 1094.8L1237.4 1094.8L1238.9 1094.7L1240.4 1094.6L1241.9 1094.5L1243.4 1094.5L1244.9 1094.4L1246.4 1094.3L1247.9 1094.3L1249.4 1094.2L1250.9 1094.1L1252.4 1094L1253.9 1094L1255.4 1093.9L1256.9 1093.8L1258.4 1093.8L1259.9 1093.7L1261.4 1093.6L1262.9 1093.6L1264.4 1093.5L1265.9 1093.4L1267.4 1093.4L1268.9 1093.3L1270.4 1093.3L1271.9 1093.2L1273.4 1093.1L1274.9 1093.1L1276.4 1093L1277.9 1092.9L1279.4 1092.9L1280.9 1092.8L1282.4 1092.8L1283.9 1092.7L1285.4 1092.6L1286.8 1092.6L1288.3 1092.5L1289.8 1092.5L1291.3 1092.4L1292.8 1092.4L1294.3 1092.3L1295.8 1092.3L1297.3 1092.2L1298.8 1092.2L1300.3 1092.1L1301.8 1092L1303.3 1092L1304.8 1091.9L1306.3 1091.9L1307.8 1091.8L1309.3 1091.8L1310.8 1091.7L1312.3 1091.7L1313.8 1091.7L1315.3 1091.6L1316.8 1091.6L1318.3 1091.5L1319.8 1091.5L1321.3 1091.4L1322.8 1091.4L1324.3 1091.3L1325.8 1091.3L1327.3 1091.3L1328.8 1091.2L1330.3 1091.2L1331.8 1091.1L1333.3 1091.1L1334.8 1091.1L1336.3 1091L1337.8 1091L1339.3 1090.9L1340.8 1090.9L1342.3 1090.9L1343.8 1090.8L1345.3 1090.8L1346.8 1090.8L1348.3 1090.7L1349.8 1090.7L1351.3 1090.7L1352.8 1090.6L1354.3 1090.6L1355.8 1090.6L1357.3 1090.5L1358.8 1090.5L1360.3 1090.5L1361.8 1090.4L1363.3 1090.4L1364.8 1090.4L1366.3 1090.3L1367.8 1090.3L1369.3 1090.3L1370.8 1090.3L1372.3 1090.2L1373.8 1090.2L1375.3 1090.2L1376.8 1090.2L1378.3 1090.1L1379.8 1090.1L1381.3 1090.1L1382.8 1090.1L1384.3 1090.1L1385.8 1090L1387.3 1090L1388.8 1090L1390.3 1090L1391.8 1090L1393.3 1089.9L1394.8 1089.9L1396.3 1089.9L1397.8 1089.9L1399.3 1089.9L1400.8 1089.8L1402.3 1089.8L1403.8 1089.8L1405.3 1089.8L1406.8 1089.8L1408.3 1089.8L1409.8 1089.8L1411.3 1089.8L1412.8 1089.7L1414.3 1089.7L1415.8 1089.7L1417.3 1089.7L1418.8 1089.7L1420.3 1089.7L1421.8 1089.7L1423.3 1089.7L1424.8 1089.7L1426.3 1089.7L1427.8 1089.6L1429.3 1089.6L1430.8 1089.6L1432.3 1089.6L1433.8 1089.6L1435.3 1089.6L1436.8 1089.6L1438.3 1089.6L1439.8 1089.6L1441.3 1089.6L1442.8 1089.6L1444.3 1089.6L1445.8 1089.6L1447.3 1089.6L1448.8 1089.6L1450.3 1089.6L1451.8 1089.6L1453.3 1089.6L1454.8 1089.6L1456.3 1089.6L1457.8 1089.6L1459.3 1089.6L1460.8 1089.6L1462.3 1089.6L1463.8 1089.6L1465.3 1089.6L1466.8 1089.6L1468.3 1089.6L1469.8 1089.7L1471.3 1089.7L1472.8 1089.7L1474.3 1089.7L1475.8 1089.7L1477.3 1089.7L1478.8 1089.7L1480.3 1089.7L1481.8 1089.7L1483.3 1089.7L1484.8 1089.8L1486.3 1089.8L1487.8 1089.8L1489.3 1089.8L1490.8 1089.8L1492.3 1089.8L1493.8 1089.8L1495.3 1089.8L1496.8 1089.9L1498.3 1089.9L1499.8 1089.9L1501.3 1089.9L1502.8 1089.9L1504.3 1089.9L1505.8 1090L1507.3 1090L1508.8 1090L1510.3 1090L1511.8 1090L1513.3 1090.1L1514.8 1090.1L1516.3 1090.1L1517.8 1090.1L1519.3 1090.1L1520.8 1090.2L1522.3 1090.2L1523.8 1090.2L1525.3 1090.2L1526.8 1090.3L1528.3 1090.3L1529.8 1090.3L1531.3 1090.3L1532.8 1090.4L1534.3 1090.4L1535.8 1090.4L1537.3 1090.4L1538.8 1090.5L1540.3 1090.5L1541.8 1090.5L1543.3 1090.6L1544.8 1090.6L1546.3 1090.6L1547.8 1090.7L1549.3 1090.7L1550.8 1090.7L1552.3 1090.7L1553.8 1090.8L1555.3 1090.8L1556.8 1090.8L1558.3 1090.9L1559.8 1090.9L1561.3 1090.9L1562.8 1091L1564.3 1091L1565.8 1091.1L1567.3 1091.1L1568.8 1091.1L1570.3 1091.2L1571.8 1091.2L1573.3 1091.2L1574.8 1091.3L1576.3 1091.3L1577.8 1091.4L1579.3 1091.4L1580.8 1091.4L1582.3 1091.5L1583.8 1091.5L1585.3 1091.6L1586.8 1091.6L1588.3 1091.6L1589.8 1091.7L1591.3 1091.7L1592.8 1091.8L1594.3 1091.8L1595.8 1091.9L1597.3 1091.9L1598.8 1091.9L1600.3 1092L1601.8 1092L1603.3 1092.1L1604.8 1092.1L1606.3 1092.2L1607.8 1092.2L1609.3 1092.3L1610.8 1092.3L1612.3 1092.4L1613.8 1092.4L1615.3 1092.5L1616.8 1092.5L1618.3 1092.6L1619.8 1092.6L1621.3 1092.7L1622.8 1092.7L1624.3 1092.8L1625.8 1092.8L1627.3 1092.9L1628.8 1092.9L1630.3 1093L1631.8 1093L1633.3 1093.1L1634.8 1093.2L1636.3 1093.2L1637.8 1093.3L1639.3 1093.3L1640.8 1093.4L1642.3 1093.4L1643.8 1093.5L1645.3 1093.5L1646.8 1093.6L1648.3 1093.7L1649.8 1093.7L1651.3 1093.8L1652.8 1093.8L1654.3 1093.9L1655.8 1094L1657.3 1094L1658.7 1094.1L1660.2 1094.1L1661.7 1094.2L1663.2 1094.3L1664.7 1094.3L1666.2 1094.4L1667.7 1094.5L1669.2 1094.5L1670.7 1094.6L1672.2 1094.6L1673.7 1094.7L1675.2 1094.8L1676.7 1094.8L1678.2 1094.9L1679.7 1095L1681.2 1095L1682.7 1095.1L1684.2 1095.2L1685.7 1095.2L1687.2 1095.3L1688.7 1095.4L1690.2 1095.4L1691.7 1095.5L1693.2 1095.6L1694.7 1095.6L1696.2 1095.7L1697.7 1095.8L1699.2 1095.9L1700.7 1095.9L1702.2 1096L1703.7 1096.1L1705.2 1096.1L1706.7 1096.2L1708.2 1096.3L1709.7 1096.4L1711.2 1096.4L1712.7 1096.5L1714.2 1096.6L1715.7 1096.7L1717.2 1096.7L1718.7 1096.8L1720.2 1096.9L1721.7 1097L1723.2 1097L1724.7 1097.1L1726.2 1097.2L1727.7 1097.3L1729.2 1097.3L1730.7 1097.4L1732.2 1097.5L1733.7 1097.6L1735 1097.7" fill="none" stroke="#008000" stroke-width="6.5" stroke-linejoin="round" stroke-linecap="butt" clip-path="url(#ca)"/>
<path d="M228 2423.1L229.1 2422.1L230.2 2421.1L231.4 2420.1L232.5 2419.1L233.6 2418.1L234.7 2417.1L235.9 2416.1L237 2415.2L238.1 2414.2L239.3 2413.2L240.4 2412.3L241.6 2411.3L242.7 2410.4L243.9 2409.4L245.1 2408.5L246.2 2407.5L247.4 2406.6L248.6 2405.7L249.8 2404.7L250.9 2403.8L252.1 2402.9L253.3 2402L254.5 2401.1L255.7 2400.2L256.9 2399.3L258.1 2398.4L259.3 2397.6L260.6 2396.7L261.8 2395.8L263 2395L264.3 2394.2L265.5 2393.3L266.8 2392.5L268 2391.7L269.3 2390.9L270.5 2390.1L271.8 2389.3L273.1 2388.5L274.4 2387.7L275.7 2387L277 2386.2L278.3 2385.5L279.6 2384.8L280.9 2384.1L282.2 2383.4L283.6 2382.7L284.9 2382L286.2 2381.4L287.6 2380.7L288.9 2380.1L290.3 2379.5L291.7 2378.9L293.1 2378.3L294.4 2377.8L295.8 2377.2L297.2 2376.7L298.6 2376.2L300.1 2375.7L301.5 2375.2L302.9 2374.8L304.3 2374.3L305.8 2373.9L307.2 2373.5L308.7 2373.2L310.1 2372.8L311.6 2372.5L313.1 2372.2L314.5 2372L316 2371.7L317.5 2371.5L319 2371.3L320.5 2371.2L322 2371.1L323.5 2371L325 2370.9L326.5 2370.8L328 2370.8L329.5 2370.8L331 2370.9L332.5 2371L334 2371.1L335.5 2371.2L337 2371.4L338.4 2371.6L339.9 2371.8L341.4 2372.1L342.9 2372.4L344.4 2372.7L345.8 2373L347.3 2373.4L348.7 2373.8L350.2 2374.2L351.6 2374.7L353 2375.1L354.4 2375.6L355.9 2376.2L357.3 2376.7L358.7 2377.3L360 2377.9L361.4 2378.5L362.8 2379.1L364.1 2379.8L365.5 2380.5L366.8 2381.2L368.1 2381.9L369.4 2382.6L370.7 2383.4L372 2384.1L373.3 2384.9L374.6 2385.7L375.9 2386.5L377.1 2387.3L378.4 2388.1L379.7 2389L380.9 2389.8L382.1 2390.7L383.4 2391.5L384.6 2392.4L385.9 2393.2L387.1 2394.1L388.3 2395L389.5 2395.8L390.7 2396.7L392 2397.6L393.2 2398.5L394.4 2399.3L395.6 2400.2L396.8 2401.1L398 2402L399.3 2402.8L400.5 2403.7L401.7 2404.6L402.9 2405.4L404.2 2406.3L405.4 2407.2L406.6 2408L407.9 2408.9L409.1 2409.7L410.3 2410.5L411.6 2411.4L412.8 2412.2L414.1 2413L415.4 2413.8L416.6 2414.6L417.9 2415.4L419.2 2416.2L420.4 2417L421.7 2417.8L423 2418.6L424.3 2419.3L425.6 2420.1L426.8 2420.9L428.1 2421.6L429.4 2422.4L430.7 2423.1L432 2423.8L433.3 2424.6L434.7 2425.3L436 2426L437.3 2426.7L438.6 2427.4L439.9 2428.1L441.3 2428.8L442.6 2429.5L443.9 2430.2L445.3 2430.9L446.6 2431.6L447.9 2432.2L449.3 2432.9L450.6 2433.5L452 2434.2L453.3 2434.8L454.7 2435.5L456.1 2436.1L457.4 2436.7L458.8 2437.3L460.2 2438L461.5 2438.6L462.9 2439.2L464.3 2439.8L465.6 2440.3L467 2440.9L468.4 2441.5L469.8 2442.1L471.2 2442.6L472.6 2443.2L474 2443.7L475.4 2444.3L476.8 2444.8L478.2 2445.4L479.6 2445.9L481 2446.4L482.4 2446.9L483.8 2447.5L485.2 2448L486.6 2448.5L488 2449L489.4 2449.5L490.9 2449.9L492.3 2450.4L493.7 2450.9L495.1 2451.4L496.5 2451.8L498 2452.3L499.4 2452.7L500.8 2453.2L502.3 2453.6L503.7 2454.1L505.1 2454.5L506.6 2454.9L508 2455.3L509.5 2455.8L510.9 2456.2L512.3 2456.6L513.8 2457L515.2 2457.4L516.7 2457.8L518.1 2458.1L519.6 2458.5L521 2458.9L522.5 2459.3L523.9 2459.7L525.4 2460L526.8 2460.4L528.3 2460.7L529.8 2461.1L531.2 2461.4L532.7 2461.8L534.1 2462.1L535.6 2462.5L537.1 2462.8L538.5 2463.1L540 2463.4L541.5 2463.8L542.9 2464.1L544.4 2464.4L545.8 2464.7L547.3 2465L548.8 2465.3L550.3 2465.6L551.7 2465.9L553.2 2466.2L554.7 2466.5L556.1 2466.8L557.6 2467.1L559.1 2467.3L560.6 2467.6L562 2467.9L563.5 2468.2L565 2468.5L566.5 2468.7L567.9 2469L569.4 2469.3L570.9 2469.5L572.4 2469.8L573.8 2470L575.3 2470.3L576.8 2470.5L578.3 2470.8L579.8 2471L581.2 2471.3L582.7 2471.5L584.2 2471.8L585.7 2472L587.2 2472.3L588.6 2472.5L590.1 2472.7L591.6 2473L593.1 2473.2L594.6 2473.5L596 2473.7L597.5 2473.9L599 2474.1L600.5 2474.4L602 2474.6L603.5 2474.8L604.9 2475L606.4 2475.3L607.9 2475.5L609.4 2475.7L610.9 2475.9L612.4 2476.1L613.8 2476.4L615.3 2476.6L616.8 2476.8L618.3 2477L619.8 2477.2L621.3 2477.4L622.8 2477.6L624.2 2477.8L625.7 2478L627.2 2478.2L628.7 2478.4L630.2 2478.6L631.7 2478.8L633.2 2479L634.6 2479.2L636.1 2479.4L637.6 2479.6L639.1 2479.7L640.6 2479.9L642.1 2480.1L643.6 2480.3L645.1 2480.5L646.6 2480.7L648 2480.8L649.5 2481L651 2481.2L652.5 2481.4L654 2481.6L655.5 2481.7L657 2481.9L658.5 2482.1L660 2482.2L661.5 2482.4L662.9 2482.6L664.4 2482.7L665.9 2482.9L667.4 2483.1L668.9 2483.2L670.4 2483.4L671.9 2483.5L673.4 2483.7L674.9 2483.8L676.4 2484L677.9 2484.1L679.3 2484.3L680.8 2484.5L682.3 2484.6L683.8 2484.7L685.3 2484.9L686.8 2485L688.3 2485.2L689.8 2485.3L691.3 2485.5L692.8 2485.6L694.3 2485.7L695.8 2485.9L697.3 2486L698.8 2486.2L700.3 2486.3L701.7 2486.4L703.2 2486.6L704.7 2486.7L706.2 2486.8L707.7 2486.9L709.2 2487.1L710.7 2487.2L712.2 2487.3L713.7 2487.4L715.2 2487.6L716.7 2487.7L718.2 2487.8L719.7 2487.9L721.2 2488L722.7 2488.2L724.2 2488.3L725.7 2488.4L727.2 2488.5L728.7 2488.6L730.2 2488.7L731.7 2488.8L733.1 2488.9L734.6 2489L736.1 2489.2L737.6 2489.3L739.1 2489.4L740.6 2489.5L742.1 2489.6L743.6 2489.7L745.1 2489.8L746.6 2489.9L748.1 2490L749.6 2490.1L751.1 2490.2L752.6 2490.3L754.1 2490.4L755.6 2490.5L757.1 2490.5L758.6 2490.6L760.1 2490.7L761.6 2490.8L763.1 2490.9L764.6 2491L766.1 2491.1L767.6 2491.2L769.1 2491.3L770.6 2491.3L772.1 2491.4L773.6 2491.5L775.1 2491.6L776.6 2491.7L778.1 2491.8L779.6 2491.8L781.1 2491.9L782.6 2492L784 2492.1L785.5 2492.1L787 2492.2L788.5 2492.3L790 2492.4L791.5 2492.4L793 2492.5L794.5 2492.6L796 2492.7L797.5 2492.7L799 2492.8L800.5 2492.9L802 2492.9L803.5 2493L805 2493.1L806.5 2493.1L808 2493.2L809.5 2493.3L811 2493.3L812.5 2493.4L814 2493.4L815.5 2493.5L817 2493.6L818.5 2493.6L820 2493.7L821.5 2493.7L823 2493.8L824.5 2493.9L826 2493.9L827.5 2494L829 2494L830.5 2494.1L832 2494.1L833.5 2494.2L835 2494.2L836.5 2494.3L838 2494.3L839.5 2494.4L841 2494.4L842.5 2494.5L844 2494.5L845.5 2494.6L847 2494.6L848.5 2494.7L850 2494.7L851.5 2494.8L853 2494.8L854.5 2494.9L856 2494.9L857.5 2495L859 2495L860.5 2495L862 2495.1L863.5 2495.1L865 2495.2L866.5 2495.2L868 2495.3L869.5 2495.3L871 2495.3L872.5 2495.4L874 2495.4L875.5 2495.5L877 2495.5L878.5 2495.5L880 2495.6L881.5 2495.6L883 2495.6L884.5 2495.7L886 2495.7L887.5 2495.8L889 2495.8L890.5 2495.8L892 2495.9L893.5 2495.9L895 2495.9L896.5 2496L898 2496L899.5 2496L901 2496.1L902.5 2496.1L904 2496.1L905.5 2496.2L907 2496.2L908.5 2496.2L910 2496.2L911.5 2496.3L913 2496.3L914.5 2496.3L916 2496.4L917.5 2496.4L919 2496.4L920.5 2496.5L922 2496.5L923.5 2496.5L925 2496.5L926.5 2496.6L928 2496.6L929.5 2496.6L931 2496.7L932.5 2496.7L934 2496.7L935.5 2496.7L937 2496.8L938.5 2496.8L940 2496.8L941.5 2496.8L943 2496.9L944.5 2496.9L946 2496.9L947.5 2497L949 2497L950.5 2497L952 2497L953.5 2497.1L955 2497.1L956.5 2497.1L958 2497.1L959.5 2497.2L961 2497.2L962.5 2497.2L964 2497.2L965.5 2497.3L967 2497.3L968.5 2497.3L970 2497.3L971.5 2497.4L973 2497.4L974.5 2497.4L976 2497.4L977.5 2497.5L979 2497.5L980.5 2497.5L982 2497.5L983.5 2497.5L985 2497.6L986.5 2497.6L988 2497.6L989.5 2497.6L991 2497.7L992.5 2497.7L994 2497.7L995.5 2497.7L997 2497.8L998.5 2497.8L1000 2497.8L1001.5 2497.8L1003 2497.8L1004.5 2497.9L1006 2497.9L1007.5 2497.9L1009 2497.9L1010.5 2498L1012 2498L1013.5 2498L1015 2498L1016.5 2498L1018 2498.1L1019.5 2498.1L1021 2498.1L1022.5 2498.1L1024 2498.1L1025.5 2498.2L1027 2498.2L1028.5 2498.2L1030 2498.2L1031.5 2498.2L1033 2498.3L1034.5 2498.3L1036 2498.3L1037.5 2498.3L1039 2498.3L1040.5 2498.4L1042 2498.4L1043.5 2498.4L1045 2498.4L1046.5 2498.4L1048 2498.5L1049.5 2498.5L1051 2498.5L1052.5 2498.5L1054 2498.5L1055.5 2498.6L1057 2498.6L1058.5 2498.6L1060 2498.6L1061.5 2498.6L1063 2498.7L1064.5 2498.7L1066 2498.7L1067.5 2498.7L1069 2498.7L1070.5 2498.7L1072 2498.8L1073.5 2498.8L1075 2498.8L1076.5 2498.8L1078 2498.8L1079.5 2498.8L1081 2498.9L1082.5 2498.9L1084 2498.9L1085.5 2498.9L1087 2498.9L1088.5 2498.9L1090 2499L1091.5 2499L1093 2499L1094.5 2499L1096 2499L1097.5 2499L1099 2499.1L1100.5 2499.1L1102 2499.1L1103.5 2499.1L1105 2499.1L1106.5 2499.1L1108 2499.2L1109.5 2499.2L1111 2499.2L1112.5 2499.2L1114 2499.2L1115.5 2499.2L1117 2499.2L1118.5 2499.3L1120 2499.3L1121.5 2499.3L1123 2499.3L1124.5 2499.3L1126 2499.3L1127.5 2499.3L1129 2499.4L1130.4 2499.4L1131.9 2499.4L1133.4 2499.4L1134.9 2499.4L1136.4 2499.4L1137.9 2499.4L1139.4 2499.5L1140.9 2499.5L1142.4 2499.5L1143.9 2499.5L1145.4 2499.5L1146.9 2499.5L1148.4 2499.5L1149.9 2499.5L1151.4 2499.6L1152.9 2499.6L1154.4 2499.6L1155.9 2499.6L1157.4 2499.6L1158.9 2499.6L1160.4 2499.6L1161.9 2499.6L1163.4 2499.7L1164.9 2499.7L1166.4 2499.7L1167.9 2499.7L1169.4 2499.7L1170.9 2499.7L1172.4 2499.7L1173.9 2499.7L1175.4 2499.8L1176.9 2499.8L1178.4 2499.8L1179.9 2499.8L1181.4 2499.8L1182.9 2499.8L1184.4 2499.8L1185.9 2499.8L1187.4 2499.8L1188.9 2499.9L1190.4 2499.9L1191.9 2499.9L1193.4 2499.9L1194.9 2499.9L1196.4 2499.9L1197.9 2499.9L1199.4 2499.9L1200.9 2499.9L1202.4 2499.9L1203.9 2500L1205.4 2500L1206.9 2500L1208.4 2500L1209.9 2500L1211.4 2500L1212.9 2500L1214.4 2500L1215.9 2500L1217.4 2500L1218.9 2500L1220.4 2500.1L1221.9 2500.1L1223.4 2500.1L1224.9 2500.1L1226.4 2500.1L1227.9 2500.1L1229.4 2500.1L1230.9 2500.1L1232.4 2500.1L1233.9 2500.1L1235.4 2500.1L1236.9 2500.2L1238.4 2500.2L1239.9 2500.2L1241.4 2500.2L1242.9 2500.2L1244.4 2500.2L1245.9 2500.2L1247.4 2500.2L1248.9 2500.2L1250.4 2500.2L1251.9 2500.2L1253.4 2500.2L1254.9 2500.2L1256.4 2500.3L1257.9 2500.3L1259.4 2500.3L1260.9 2500.3L1262.4 2500.3L1263.9 2500.3L1265.4 2500.3L1266.9 2500.3L1268.4 2500.3L1269.9 2500.3L1271.4 2500.3L1272.9 2500.3L1274.4 2500.3L1275.9 2500.3L1277.4 2500.4L1278.9 2500.4L1280.4 2500.4L1281.9 2500.4L1283.4 2500.4L1284.9 2500.4L1286.4 2500.4L1287.9 2500.4L1289.4 2500.4L1290.9 2500.4L1292.4 2500.4L1293.9 2500.4L1295.4 2500.4L1296.9 2500.4L1298.4 2500.4L1299.9 2500.4L1301.4 2500.4L1302.9 2500.5L1304.4 2500.5L1305.9 2500.5L1307.4 2500.5L1308.9 2500.5L1310.4 2500.5L1311.9 2500.5L1313.4 2500.5L1314.9 2500.5L1316.4 2500.5L1317.9 2500.5L1319.4 2500.5L1320.9 2500.5L1322.4 2500.5L1323.9 2500.5L1325.4 2500.5L1326.9 2500.5L1328.4 2500.5L1329.9 2500.5L1331.4 2500.5L1332.9 2500.5L1334.4 2500.5L1335.9 2500.6L1337.4 2500.6L1338.9 2500.6L1340.4 2500.6L1341.9 2500.6L1343.4 2500.6L1344.9 2500.6L1346.4 2500.6L1347.9 2500.6L1349.4 2500.6L1350.9 2500.6L1352.4 2500.6L1353.9 2500.6L1355.4 2500.6L1356.9 2500.6L1358.4 2500.6L1359.9 2500.6L1361.4 2500.6L1362.9 2500.6L1364.4 2500.6L1365.9 2500.6L1367.4 2500.6L1368.9 2500.6L1370.4 2500.6L1371.9 2500.6L1373.4 2500.6L1374.9 2500.6L1376.4 2500.6L1377.9 2500.6L1379.4 2500.6L1380.9 2500.6L1382.4 2500.6L1383.9 2500.6L1385.4 2500.7L1386.9 2500.7L1388.4 2500.7L1389.9 2500.7L1391.4 2500.7L1392.9 2500.7L1394.4 2500.7L1395.9 2500.7L1397.4 2500.7L1398.9 2500.7L1400.4 2500.7L1401.9 2500.7L1403.4 2500.7L1404.9 2500.7L1406.4 2500.7L1407.9 2500.7L1409.4 2500.7L1410.9 2500.7L1412.4 2500.7L1413.9 2500.7L1415.4 2500.7L1416.9 2500.7L1418.4 2500.7L1419.9 2500.7L1421.4 2500.7L1422.9 2500.7L1424.4 2500.7L1425.9 2500.7L1427.4 2500.7L1428.9 2500.7L1430.4 2500.7L1431.9 2500.7L1433.4 2500.7L1434.9 2500.7L1436.4 2500.7L1437.9 2500.7L1439.4 2500.7L1440.9 2500.7L1442.4 2500.7L1443.9 2500.7L1445.4 2500.7L1446.9 2500.7L1448.4 2500.7L1449.9 2500.7L1451.4 2500.7L1452.9 2500.7L1454.4 2500.7L1455.9 2500.7L1457.4 2500.7L1458.9 2500.7L1460.4 2500.7L1461.9 2500.7L1463.4 2500.7L1464.9 2500.7L1466.4 2500.7L1467.9 2500.7L1469.4 2500.7L1470.9 2500.7L1472.4 2500.7L1473.9 2500.7L1475.4 2500.7L1476.9 2500.7L1478.4 2500.7L1479.9 2500.7L1481.4 2500.7L1482.9 2500.7L1484.4 2500.7L1485.9 2500.7L1487.4 2500.7L1488.9 2500.7L1490.4 2500.7L1491.9 2500.7L1493.4 2500.7L1494.9 2500.7L1496.4 2500.7L1497.9 2500.7L1499.4 2500.7L1500.9 2500.7L1502.4 2500.7L1503.9 2500.7L1505.4 2500.7L1506.9 2500.7L1508.4 2500.7L1509.9 2500.7L1511.4 2500.7L1512.9 2500.7L1514.4 2500.7L1515.9 2500.7L1517.4 2500.7L1518.9 2500.7L1520.4 2500.7L1521.9 2500.7L1523.4 2500.7L1524.9 2500.7L1526.4 2500.7L1527.9 2500.6L1529.4 2500.6L1530.9 2500.6L1532.4 2500.6L1533.9 2500.6L1535.4 2500.6L1536.9 2500.6L1538.4 2500.6L1539.9 2500.6L1541.4 2500.6L1542.9 2500.6L1544.4 2500.6L1545.9 2500.6L1547.4 2500.6L1548.9 2500.6L1550.4 2500.6L1551.9 2500.6L1553.4 2500.6L1554.9 2500.6L1556.4 2500.6L1557.9 2500.6L1559.4 2500.6L1560.9 2500.6L1562.4 2500.6L1563.9 2500.6L1565.4 2500.6L1566.9 2500.6L1568.4 2500.6L1569.9 2500.6L1571.4 2500.6L1572.9 2500.6L1574.4 2500.6L1575.9 2500.6L1577.4 2500.6L1578.9 2500.6L1580.4 2500.6L1581.9 2500.6L1583.4 2500.6L1584.9 2500.6L1586.4 2500.6L1587.9 2500.6L1589.4 2500.5L1590.9 2500.5L1592.4 2500.5L1593.9 2500.5L1595.4 2500.5L1596.9 2500.5L1598.4 2500.5L1599.9 2500.5L1601.4 2500.5L1602.9 2500.5L1604.4 2500.5L1605.9 2500.5L1607.4 2500.5L1608.9 2500.5L1610.4 2500.5L1611.9 2500.5L1613.4 2500.5L1614.9 2500.5L1616.4 2500.5L1617.9 2500.5L1619.4 2500.5L1620.9 2500.5L1622.4 2500.5L1623.9 2500.5L1625.4 2500.5L1626.9 2500.5L1628.4 2500.5L1629.9 2500.5L1631.4 2500.5L1632.9 2500.5L1634.4 2500.5L1635.9 2500.4L1637.4 2500.4L1638.9 2500.4L1640.4 2500.4L1641.9 2500.4L1643.4 2500.4L1644.9 2500.4L1646.4 2500.4L1647.9 2500.4L1649.4 2500.4L1650.9 2500.4L1652.4 2500.4L1653.9 2500.4L1655.4 2500.4L1656.9 2500.4L1658.4 2500.4L1659.9 2500.4L1661.4 2500.4L1662.9 2500.4L1664.4 2500.4L1665.9 2500.4L1667.4 2500.4L1668.9 2500.4L1670.4 2500.4L1671.9 2500.4L1673.4 2500.4L1674.9 2500.4L1676.4 2500.3L1677.9 2500.3L1679.4 2500.3L1680.9 2500.3L1682.4 2500.3L1683.9 2500.3L1685.4 2500.3L1686.9 2500.3L1688.4 2500.3L1689.9 2500.3L1691.4 2500.3L1692.9 2500.3L1694.4 2500.3L1695.9 2500.3L1697.4 2500.3L1698.9 2500.3L1700.4 2500.3L1701.9 2500.3L1703.4 2500.3L1704.9 2500.3L1706.4 2500.3L1707.9 2500.3L1709.4 2500.3L1710.9 2500.3L1712.4 2500.3L1713.9 2500.2L1715.4 2500.2L1716.9 2500.2L1718.4 2500.2L1719.9 2500.2L1721.4 2500.2L1722.9 2500.2L1724.4 2500.2L1725.9 2500.2L1727.4 2500.2L1728.9 2500.2L1730.4 2500.2L1731.9 2500.2L1733.4 2500.2L1734.9 2500.2L1735 2500.2" fill="none" stroke="#808080" stroke-width="5.8" stroke-linejoin="round" stroke-linecap="butt" clip-path="url(#cb)"/>
<path d="M228 2537.7L229.2 2536.8L230.4 2535.9L231.6 2535.1L232.9 2534.2L234.1 2533.3L235.3 2532.5L236.5 2531.6L237.8 2530.8L239 2530L240.3 2529.1L241.5 2528.3L242.8 2527.5L244.1 2526.7L245.3 2525.9L246.6 2525.1L247.9 2524.4L249.2 2523.6L250.5 2522.8L251.8 2522.1L253.1 2521.4L254.4 2520.6L255.7 2519.9L257 2519.2L258.3 2518.5L259.7 2517.8L261 2517.1L262.3 2516.5L263.7 2515.8L265 2515.2L266.4 2514.6L267.7 2513.9L269.1 2513.3L270.5 2512.7L271.9 2512.2L273.3 2511.6L274.6 2511L276 2510.5L277.4 2510L278.8 2509.4L280.3 2508.9L281.7 2508.5L283.1 2508L284.5 2507.5L286 2507.1L287.4 2506.7L288.8 2506.3L290.3 2505.9L291.7 2505.5L293.2 2505.1L294.6 2504.8L296.1 2504.5L297.6 2504.2L299 2503.9L300.5 2503.6L302 2503.4L303.5 2503.1L305 2502.9L306.4 2502.7L307.9 2502.6L309.4 2502.4L310.9 2502.3L312.4 2502.2L313.9 2502.1L315.4 2502L316.9 2501.9L318.4 2501.9L319.9 2501.9L321.4 2501.9L322.9 2501.9L324.4 2502L325.9 2502L327.4 2502.1L328.9 2502.3L330.4 2502.4L331.9 2502.5L333.4 2502.7L334.9 2502.9L336.4 2503.1L337.8 2503.3L339.3 2503.6L340.8 2503.9L342.3 2504.1L343.7 2504.4L345.2 2504.7L346.7 2505.1L348.1 2505.4L349.6 2505.8L351.1 2506.1L352.5 2506.5L354 2506.9L355.4 2507.3L356.8 2507.7L358.3 2508.1L359.7 2508.6L361.2 2509L362.6 2509.5L364 2509.9L365.4 2510.4L366.9 2510.9L368.3 2511.4L369.7 2511.9L371.1 2512.4L372.5 2512.9L373.9 2513.4L375.3 2513.9L376.8 2514.4L378.2 2515L379.6 2515.5L381 2516.1L382.4 2516.6L383.8 2517.2L385.1 2517.7L386.5 2518.3L387.9 2518.8L389.3 2519.4L390.7 2520L392.1 2520.5L393.5 2521.1L394.9 2521.7L396.3 2522.2L397.7 2522.8L399 2523.4L400.4 2524L401.8 2524.5L403.2 2525.1L404.6 2525.7L406 2526.2L407.4 2526.8L408.7 2527.4L410.1 2527.9L411.5 2528.5L412.9 2529.1L414.3 2529.6L415.7 2530.2L417.1 2530.8L418.5 2531.3L419.9 2531.9L421.3 2532.4L422.7 2533L424.1 2533.5L425.5 2534.1L426.9 2534.6L428.3 2535.1L429.7 2535.7L431.1 2536.2L432.5 2536.7L433.9 2537.2L435.3 2537.7L436.7 2538.2L438.1 2538.7L439.5 2539.2L440.9 2539.7L442.4 2540.2L443.8 2540.7L445.2 2541.2L446.6 2541.6L448 2542.1L449.5 2542.6L450.9 2543L452.3 2543.5L453.8 2543.9L455.2 2544.3L456.6 2544.7L458.1 2545.1L459.5 2545.5L461 2545.9L462.4 2546.3L463.9 2546.7L465.3 2547.1L466.8 2547.4L468.2 2547.8L469.7 2548.1L471.2 2548.4L472.6 2548.8L474.1 2549.1L475.6 2549.4L477 2549.7L478.5 2550L480 2550.3L481.4 2550.5L482.9 2550.8L484.4 2551.1L485.9 2551.3L487.4 2551.6L488.8 2551.8L490.3 2552.1L491.8 2552.3L493.3 2552.5L494.8 2552.8L496.2 2553L497.7 2553.2L499.2 2553.4L500.7 2553.6L502.2 2553.8L503.7 2554.1L505.2 2554.3L506.6 2554.5L508.1 2554.7L509.6 2554.9L511.1 2555L512.6 2555.2L514.1 2555.4L515.6 2555.6L517 2555.8L518.5 2556L520 2556.2L521.5 2556.3L523 2556.5L524.5 2556.7L526 2556.9L527.5 2557L529 2557.2L530.5 2557.4L531.9 2557.5L533.4 2557.7L534.9 2557.8L536.4 2558L537.9 2558.2L539.4 2558.3L540.9 2558.5L542.4 2558.6L543.9 2558.8L545.4 2558.9L546.9 2559.1L548.4 2559.2L549.9 2559.4L551.3 2559.5L552.8 2559.6L554.3 2559.8L555.8 2559.9L557.3 2560.1L558.8 2560.2L560.3 2560.3L561.8 2560.5L563.3 2560.6L564.8 2560.8L566.3 2560.9L567.8 2561L569.3 2561.2L570.8 2561.3L572.3 2561.4L573.8 2561.6L575.2 2561.7L576.7 2561.8L578.2 2562L579.7 2562.1L581.2 2562.2L582.7 2562.3L584.2 2562.5L585.7 2562.6L587.2 2562.7L588.7 2562.9L590.2 2563L591.7 2563.1L593.2 2563.3L594.7 2563.4L596.2 2563.5L597.7 2563.6L599.2 2563.8L600.6 2563.9L602.1 2564L603.6 2564.2L605.1 2564.3L606.6 2564.4L608.1 2564.5L609.6 2564.7L611.1 2564.8L612.6 2564.9L614.1 2565.1L615.6 2565.2L617.1 2565.3L618.6 2565.4L620.1 2565.6L621.6 2565.7L623.1 2565.8L624.6 2565.9L626.1 2566.1L627.6 2566.2L629 2566.3L630.5 2566.4L632 2566.6L633.5 2566.7L635 2566.8L636.5 2566.9L638 2567.1L639.5 2567.2L641 2567.3L642.5 2567.4L644 2567.5L645.5 2567.7L647 2567.8L648.5 2567.9L650 2568L651.5 2568.1L653 2568.3L654.5 2568.4L656 2568.5L657.5 2568.6L659 2568.7L660.4 2568.8L661.9 2569L663.4 2569.1L664.9 2569.2L666.4 2569.3L667.9 2569.4L669.4 2569.5L670.9 2569.6L672.4 2569.8L673.9 2569.9L675.4 2570L676.9 2570.1L678.4 2570.2L679.9 2570.3L681.4 2570.4L682.9 2570.5L684.4 2570.6L685.9 2570.7L687.4 2570.9L688.9 2571L690.4 2571.1L691.9 2571.2L693.4 2571.3L694.9 2571.4L696.3 2571.5L697.8 2571.6L699.3 2571.7L700.8 2571.8L702.3 2571.9L703.8 2572L705.3 2572.1L706.8 2572.2L708.3 2572.3L709.8 2572.4L711.3 2572.5L712.8 2572.6L714.3 2572.7L715.8 2572.8L717.3 2572.9L718.8 2573L720.3 2573.1L721.8 2573.2L723.3 2573.3L724.8 2573.4L726.3 2573.5L727.8 2573.6L729.3 2573.6L730.8 2573.7L732.3 2573.8L733.8 2573.9L735.3 2574L736.8 2574.1L738.3 2574.2L739.8 2574.3L741.3 2574.3L742.8 2574.4L744.3 2574.5L745.7 2574.6L747.2 2574.7L748.7 2574.8L750.2 2574.8L751.7 2574.9L753.2 2575L754.7 2575.1L756.2 2575.2L757.7 2575.2L759.2 2575.3L760.7 2575.4L762.2 2575.5L763.7 2575.5L765.2 2575.6L766.7 2575.7L768.2 2575.8L769.7 2575.8L771.2 2575.9L772.7 2576L774.2 2576L775.7 2576.1L777.2 2576.2L778.7 2576.2L780.2 2576.3L781.7 2576.4L783.2 2576.4L784.7 2576.5L786.2 2576.6L787.7 2576.6L789.2 2576.7L790.7 2576.7L792.2 2576.8L793.7 2576.9L795.2 2576.9L796.7 2577L798.2 2577L799.7 2577.1L801.2 2577.1L802.7 2577.2L804.2 2577.2L805.7 2577.3L807.2 2577.4L808.7 2577.4L810.2 2577.5L811.7 2577.5L813.2 2577.6L814.7 2577.6L816.2 2577.7L817.7 2577.7L819.2 2577.8L820.7 2577.8L822.2 2577.9L823.7 2577.9L825.2 2577.9L826.7 2578L828.2 2578L829.7 2578.1L831.2 2578.1L832.7 2578.2L834.2 2578.2L835.7 2578.3L837.2 2578.3L838.7 2578.3L840.2 2578.4L841.7 2578.4L843.2 2578.5L844.7 2578.5L846.2 2578.5L847.7 2578.6L849.2 2578.6L850.7 2578.6L852.2 2578.7L853.7 2578.7L855.2 2578.8L856.7 2578.8L858.2 2578.8L859.7 2578.9L861.2 2578.9L862.7 2578.9L864.2 2579L865.7 2579L867.2 2579L868.7 2579.1L870.2 2579.1L871.7 2579.1L873.2 2579.1L874.7 2579.2L876.2 2579.2L877.7 2579.2L879.2 2579.3L880.7 2579.3L882.2 2579.3L883.7 2579.4L885.2 2579.4L886.7 2579.4L888.2 2579.4L889.7 2579.5L891.2 2579.5L892.7 2579.5L894.2 2579.5L895.7 2579.6L897.2 2579.6L898.7 2579.6L900.2 2579.6L901.7 2579.7L903.2 2579.7L904.7 2579.7L906.2 2579.7L907.7 2579.8L909.2 2579.8L910.7 2579.8L912.2 2579.8L913.7 2579.9L915.2 2579.9L916.7 2579.9L918.2 2579.9L919.7 2579.9L921.2 2580L922.7 2580L924.2 2580L925.7 2580L927.2 2580L928.7 2580.1L930.2 2580.1L931.7 2580.1L933.2 2580.1L934.7 2580.2L936.2 2580.2L937.7 2580.2L939.2 2580.2L940.7 2580.2L942.2 2580.3L943.7 2580.3L945.2 2580.3L946.7 2580.3L948.2 2580.3L949.7 2580.3L951.2 2580.4L952.7 2580.4L954.2 2580.4L955.6 2580.4L957.1 2580.4L958.6 2580.5L960.1 2580.5L961.6 2580.5L963.1 2580.5L964.6 2580.5L966.1 2580.5L967.6 2580.6L969.1 2580.6L970.6 2580.6L972.1 2580.6L973.6 2580.6L975.1 2580.6L976.6 2580.7L978.1 2580.7L979.6 2580.7L981.1 2580.7L982.6 2580.7L984.1 2580.8L985.6 2580.8L987.1 2580.8L988.6 2580.8L990.1 2580.8L991.6 2580.8L993.1 2580.8L994.6 2580.9L996.1 2580.9L997.6 2580.9L999.1 2580.9L1000.6 2580.9L1002.1 2580.9L1003.6 2581L1005.1 2581L1006.6 2581L1008.1 2581L1009.6 2581L1011.1 2581L1012.6 2581L1014.1 2581.1L1015.6 2581.1L1017.1 2581.1L1018.6 2581.1L1020.1 2581.1L1021.6 2581.1L1023.1 2581.1L1024.6 2581.2L1026.1 2581.2L1027.6 2581.2L1029.1 2581.2L1030.6 2581.2L1032.1 2581.2L1033.6 2581.2L1035.1 2581.3L1036.6 2581.3L1038.1 2581.3L1039.6 2581.3L1041.1 2581.3L1042.6 2581.3L1044.1 2581.3L1045.6 2581.3L1047.1 2581.4L1048.6 2581.4L1050.1 2581.4L1051.6 2581.4L1053.1 2581.4L1054.6 2581.4L1056.1 2581.4L1057.6 2581.4L1059.1 2581.5L1060.6 2581.5L1062.1 2581.5L1063.6 2581.5L1065.1 2581.5L1066.6 2581.5L1068.1 2581.5L1069.6 2581.5L1071.1 2581.5L1072.6 2581.6L1074.1 2581.6L1075.6 2581.6L1077.1 2581.6L1078.6 2581.6L1080.1 2581.6L1081.6 2581.6L1083.1 2581.6L1084.6 2581.6L1086.1 2581.6L1087.6 2581.7L1089.1 2581.7L1090.6 2581.7L1092.1 2581.7L1093.6 2581.7L1095.1 2581.7L1096.6 2581.7L1098.1 2581.7L1099.6 2581.7L1101.1 2581.7L1102.6 2581.8L1104.1 2581.8L1105.6 2581.8L1107.1 2581.8L1108.6 2581.8L1110.1 2581.8L1111.6 2581.8L1113.1 2581.8L1114.6 2581.8L1116.1 2581.8L1117.6 2581.8L1119.1 2581.9L1120.6 2581.9L1122.1 2581.9L1123.6 2581.9L1125.1 2581.9L1126.6 2581.9L1128.1 2581.9L1129.6 2581.9L1131.1 2581.9L1132.6 2581.9L1134.1 2581.9L1135.6 2581.9L1137.1 2582L1138.6 2582L1140.1 2582L1141.6 2582L1143.1 2582L1144.6 2582L1146.1 2582L1147.6 2582L1149.1 2582L1150.6 2582L1152.1 2582L1153.6 2582L1155.1 2582L1156.6 2582L1158.1 2582.1L1159.6 2582.1L1161.1 2582.1L1162.6 2582.1L1164.1 2582.1L1165.6 2582.1L1167.1 2582.1L1168.6 2582.1L1170.1 2582.1L1171.6 2582.1L1173.1 2582.1L1174.6 2582.1L1176.1 2582.1L1177.6 2582.1L1179.1 2582.1L1180.6 2582.2L1182.1 2582.2L1183.6 2582.2L1185.1 2582.2L1186.6 2582.2L1188.1 2582.2L1189.6 2582.2L1191.1 2582.2L1192.6 2582.2L1194.1 2582.2L1195.6 2582.2L1197.1 2582.2L1198.6 2582.2L1200.1 2582.2L1201.6 2582.2L1203.1 2582.2L1204.6 2582.2L1206.1 2582.2L1207.6 2582.2L1209.1 2582.3L1210.6 2582.3L1212.1 2582.3L1213.6 2582.3L1215.1 2582.3L1216.6 2582.3L1218.1 2582.3L1219.6 2582.3L1221.1 2582.3L1222.6 2582.3L1224.1 2582.3L1225.6 2582.3L1227.1 2582.3L1228.6 2582.3L1230.1 2582.3L1231.6 2582.3L1233.1 2582.3L1234.6 2582.3L1236.1 2582.3L1237.6 2582.3L1239.1 2582.3L1240.6 2582.3L1242.1 2582.3L1243.6 2582.3L1245.1 2582.3L1246.6 2582.4L1248.1 2582.4L1249.6 2582.4L1251.1 2582.4L1252.6 2582.4L1254.1 2582.4L1255.6 2582.4L1257.1 2582.4L1258.6 2582.4L1260.1 2582.4L1261.6 2582.4L1263.1 2582.4L1264.6 2582.4L1266.1 2582.4L1267.6 2582.4L1269.1 2582.4L1270.6 2582.4L1272.1 2582.4L1273.6 2582.4L1275.1 2582.4L1276.6 2582.4L1278.1 2582.4L1279.6 2582.4L1281.1 2582.4L1282.6 2582.4L1284.1 2582.4L1285.6 2582.4L1287.1 2582.4L1288.6 2582.4L1290.1 2582.4L1291.6 2582.4L1293.1 2582.4L1294.6 2582.4L1296.1 2582.4L1297.6 2582.4L1299.1 2582.4L1300.6 2582.4L1302.1 2582.4L1303.6 2582.4L1305.1 2582.5L1306.6 2582.5L1308.1 2582.5L1309.6 2582.5L1311.1 2582.5L1312.6 2582.5L1314.1 2582.5L1315.6 2582.5L1317.1 2582.5L1318.6 2582.5L1320.1 2582.5L1321.6 2582.5L1323.1 2582.5L1324.6 2582.5L1326.1 2582.5L1327.6 2582.5L1329.1 2582.5L1330.6 2582.5L1332.1 2582.5L1333.6 2582.5L1335.1 2582.5L1336.6 2582.5L1338.1 2582.5L1339.6 2582.5L1341.1 2582.5L1342.6 2582.5L1344.1 2582.5L1345.6 2582.5L1347.1 2582.5L1348.6 2582.5L1350.1 2582.5L1351.6 2582.5L1353.1 2582.5L1354.6 2582.5L1356.1 2582.5L1357.6 2582.5L1359.1 2582.5L1360.6 2582.5L1362.1 2582.5L1363.6 2582.5L1365.1 2582.5L1366.6 2582.5L1368.1 2582.5L1369.6 2582.5L1371.1 2582.5L1372.6 2582.5L1374.1 2582.5L1375.6 2582.5L1377.1 2582.5L1378.6 2582.5L1380.1 2582.5L1381.6 2582.5L1383.1 2582.5L1384.6 2582.5L1386.1 2582.5L1387.6 2582.5L1389.1 2582.5L1390.6 2582.5L1392.1 2582.5L1393.6 2582.5L1395.1 2582.5L1396.6 2582.5L1398.1 2582.5L1399.6 2582.5L1401.1 2582.5L1402.6 2582.5L1404.1 2582.5L1405.6 2582.5L1407.1 2582.5L1408.6 2582.5L1410.1 2582.5L1411.6 2582.5L1413.1 2582.5L1414.6 2582.5L1416.1 2582.5L1417.6 2582.5L1419.1 2582.5L1420.6 2582.5L1422.1 2582.5L1423.6 2582.5L1425.1 2582.5L1426.6 2582.5L1428.1 2582.5L1429.6 2582.5L1431.1 2582.5L1432.6 2582.5L1434.1 2582.5L1435.6 2582.5L1437.1 2582.5L1438.6 2582.5L1440.1 2582.5L1441.6 2582.5L1443.1 2582.5L1444.6 2582.5L1446.1 2582.5L1447.6 2582.5L1449.1 2582.5L1450.6 2582.5L1452.1 2582.5L1453.6 2582.5L1455.1 2582.5L1456.6 2582.5L1458.1 2582.5L1459.6 2582.5L1461.1 2582.5L1462.6 2582.5L1464.1 2582.5L1465.6 2582.5L1467.1 2582.5L1468.6 2582.5L1470.1 2582.5L1471.6 2582.5L1473.1 2582.5L1474.6 2582.5L1476.1 2582.5L1477.6 2582.5L1479.1 2582.5L1480.6 2582.5L1482.1 2582.5L1483.6 2582.5L1485.1 2582.5L1486.6 2582.5L1488.1 2582.5L1489.6 2582.5L1491.1 2582.5L1492.6 2582.5L1494.1 2582.5L1495.6 2582.5L1497.1 2582.5L1498.6 2582.5L1500.1 2582.5L1501.6 2582.5L1503.1 2582.5L1504.6 2582.5L1506.1 2582.5L1507.6 2582.5L1509.1 2582.5L1510.6 2582.5L1512.1 2582.5L1513.6 2582.5L1515.1 2582.5L1516.6 2582.5L1518.1 2582.5L1519.6 2582.5L1521.1 2582.5L1522.6 2582.5L1524.1 2582.5L1525.6 2582.5L1527.1 2582.5L1528.6 2582.5L1530.1 2582.5L1531.6 2582.5L1533.1 2582.5L1534.6 2582.5L1536.1 2582.5L1537.6 2582.5L1539.1 2582.5L1540.6 2582.5L1542.1 2582.5L1543.6 2582.5L1545.1 2582.5L1546.6 2582.5L1548.1 2582.5L1549.6 2582.5L1551.1 2582.5L1552.6 2582.5L1554.1 2582.5L1555.6 2582.5L1557.1 2582.5L1558.6 2582.5L1560.1 2582.5L1561.6 2582.5L1563.1 2582.5L1564.6 2582.5L1566.1 2582.5L1567.6 2582.5L1569.1 2582.5L1570.6 2582.5L1572.1 2582.5L1573.6 2582.5L1575.1 2582.5L1576.6 2582.5L1578.1 2582.5L1579.6 2582.5L1581.1 2582.5L1582.6 2582.5L1584.1 2582.5L1585.6 2582.5L1587.1 2582.5L1588.6 2582.5L1590.1 2582.5L1591.6 2582.5L1593.1 2582.5L1594.6 2582.5L1596.1 2582.5L1597.6 2582.5L1599.1 2582.5L1600.6 2582.5L1602.1 2582.5L1603.6 2582.5L1605.1 2582.5L1606.6 2582.5L1608.1 2582.5L1609.6 2582.5L1611.1 2582.5L1612.6 2582.5L1614.1 2582.5L1615.6 2582.5L1617.1 2582.5L1618.6 2582.5L1620.1 2582.5L1621.6 2582.5L1623.1 2582.5L1624.6 2582.5L1626.1 2582.5L1627.6 2582.5L1629.1 2582.5L1630.6 2582.5L1632.1 2582.5L1633.6 2582.5L1635.1 2582.5L1636.6 2582.5L1638.1 2582.5L1639.6 2582.5L1641.1 2582.5L1642.6 2582.5L1644.1 2582.5L1645.6 2582.5L1647.1 2582.5L1648.6 2582.5L1650.1 2582.5L1651.6 2582.5L1653.1 2582.5L1654.6 2582.5L1656.1 2582.5L1657.6 2582.5L1659.1 2582.5L1660.6 2582.5L1662.1 2582.5L1663.6 2582.5L1665.1 2582.5L1666.6 2582.5L1668.1 2582.5L1669.6 2582.5L1671.1 2582.5L1672.6 2582.5L1674.1 2582.5L1675.6 2582.5L1677.1 2582.5L1678.6 2582.5L1680.1 2582.5L1681.6 2582.5L1683.1 2582.5L1684.6 2582.6L1686.1 2582.6L1687.6 2582.6L1689.1 2582.6L1690.6 2582.6L1692.1 2582.6L1693.6 2582.6L1695.1 2582.6L1696.6 2582.6L1698.1 2582.6L1699.6 2582.6L1701.1 2582.6L1702.6 2582.6L1704.1 2582.6L1705.6 2582.6L1707.1 2582.6L1708.6 2582.6L1710.1 2582.6L1711.6 2582.6L1713.1 2582.6L1714.6 2582.6L1716.1 2582.6L1717.6 2582.6L1719.1 2582.6L1720.6 2582.6L1722.1 2582.6L1723.6 2582.6L1725.1 2582.6L1726.6 2582.6L1728.1 2582.6L1729.6 2582.6L1731.1 2582.6L1732.6 2582.6L1734.1 2582.6L1735 2582.6" fill="none" stroke="#0000ff" stroke-width="6.5" stroke-linejoin="round" stroke-linecap="butt" clip-path="url(#cb)"/>
<path d="M228.5 2258.7L229.2 2257.3L229.9 2256L230.6 2254.7L231.3 2253.4L232.1 2252.1L232.8 2250.7L233.5 2249.4L234.2 2248.1L234.9 2246.8L235.6 2245.5L236.4 2244.2L237.1 2242.8L237.8 2241.5L238.5 2240.2L239.3 2238.9L240 2237.6L240.7 2236.3L241.4 2235L242.2 2233.7L242.9 2232.4L243.6 2231.1L244.4 2229.8L245.1 2228.5L245.9 2227.2L246.6 2225.9L247.4 2224.6L248.1 2223.3L248.9 2222L249.6 2220.7L250.4 2219.4L251.1 2218.1L251.9 2216.8L252.7 2215.5L253.4 2214.2L254.2 2213L255 2211.7L255.8 2210.4L256.5 2209.1L257.3 2207.8L258.1 2206.6L258.9 2205.3L259.7 2204L260.5 2202.8L261.3 2201.5L262.1 2200.3L262.9 2199L263.8 2197.8L264.6 2196.5L265.4 2195.3L266.2 2194L267.1 2192.8L267.9 2191.5L268.8 2190.3L269.6 2189.1L270.5 2187.9L271.4 2186.7L272.2 2185.4L273.1 2184.2L274 2183L274.9 2181.8L275.8 2180.7L276.7 2179.5L277.6 2178.3L278.6 2177.1L279.5 2176L280.4 2174.8L281.4 2173.6L282.4 2172.5L283.3 2171.4L284.3 2170.3L285.3 2169.1L286.3 2168L287.3 2167L288.4 2165.9L289.4 2164.8L290.4 2163.8L291.5 2162.7L292.6 2161.7L293.7 2160.7L294.8 2159.7L295.9 2158.7L297.1 2157.7L298.2 2156.8L299.4 2155.9L300.6 2155L301.8 2154.1L303 2153.2L304.2 2152.4L305.5 2151.6L306.7 2150.8L308 2150L309.3 2149.3L310.6 2148.6L312 2147.9L313.3 2147.3L314.7 2146.7L316 2146.1L317.4 2145.6L318.8 2145.1L320.3 2144.6L321.7 2144.2L323.2 2143.9L324.6 2143.6L326.1 2143.3L327.6 2143.1L329.1 2142.9L330.5 2142.8L332 2142.7L333.5 2142.7L335 2142.7L336.5 2142.8L338 2142.9L339.5 2143.1L341 2143.3L342.5 2143.5L344 2143.9L345.4 2144.2L346.9 2144.6L348.3 2145.1L349.8 2145.6L351.2 2146.1L352.6 2146.6L354 2147.2L355.3 2147.8L356.7 2148.5L358 2149.1L359.4 2149.8L360.7 2150.6L362 2151.3L363.3 2152.1L364.6 2152.9L365.9 2153.7L367.1 2154.5L368.4 2155.3L369.6 2156.2L370.9 2157L372.1 2157.9L373.3 2158.8L374.5 2159.7L375.7 2160.7L376.9 2161.6L378 2162.5L379.2 2163.5L380.4 2164.5L381.5 2165.4L382.6 2166.4L383.8 2167.4L384.9 2168.4L386 2169.4L387.1 2170.4L388.3 2171.4L389.4 2172.4L390.5 2173.5L391.5 2174.5L392.6 2175.5L393.7 2176.6L394.8 2177.6L395.9 2178.7L396.9 2179.7L398 2180.8L399.1 2181.9L400.1 2182.9L401.2 2184L402.2 2185.1L403.3 2186.2L404.3 2187.2L405.4 2188.3L406.4 2189.4L407.4 2190.5L408.5 2191.6L409.5 2192.7L410.5 2193.8L411.6 2194.9L412.6 2195.9L413.6 2197L414.6 2198.1L415.7 2199.2L416.7 2200.3L417.7 2201.4L418.7 2202.5L419.7 2203.6L420.8 2204.7L421.8 2205.8L422.8 2206.9L423.8 2208L424.8 2209.1L425.9 2210.2L426.9 2211.3L427.9 2212.4L428.9 2213.5L429.9 2214.6L431 2215.7L432 2216.8L433 2217.9L434 2219L435.1 2220.1L436.1 2221.2L437.1 2222.3L438.1 2223.4L439.2 2224.5L440.2 2225.6L441.2 2226.6L442.3 2227.7L443.3 2228.8L444.4 2229.9L445.4 2231L446.4 2232L447.5 2233.1L448.5 2234.2L449.6 2235.3L450.6 2236.3L451.7 2237.4L452.7 2238.4L453.8 2239.5L454.9 2240.6L455.9 2241.6L457 2242.7L458.1 2243.7L459.1 2244.8L460.2 2245.8L461.3 2246.8L462.4 2247.9L463.5 2248.9L464.6 2249.9L465.7 2250.9L466.8 2252L467.9 2253L469 2254L470.1 2255L471.2 2256L472.3 2257L473.4 2257.9L474.6 2258.9L475.7 2259.9L476.9 2260.9L478 2261.8L479.2 2262.8L480.3 2263.7L481.5 2264.7L482.7 2265.6L483.8 2266.5L485 2267.4L486.2 2268.3L487.4 2269.2L488.6 2270.1L489.8 2271L491 2271.9L492.3 2272.7L493.5 2273.6L494.7 2274.4L496 2275.2L497.2 2276.1L498.5 2276.9L499.8 2277.7L501 2278.4L502.3 2279.2L503.6 2280L504.9 2280.7L506.2 2281.5L507.5 2282.2L508.8 2282.9L510.1 2283.6L511.5 2284.3L512.8 2285L514.1 2285.7L515.5 2286.4L516.8 2287L518.1 2287.7L519.5 2288.4L520.8 2289L522.2 2289.6L523.6 2290.3L524.9 2290.9L526.3 2291.5L527.6 2292.2L529 2292.8L530.4 2293.4L531.7 2294L533.1 2294.6L534.5 2295.2L535.8 2295.8L537.2 2296.5L538.6 2297.1L540 2297.7L541.3 2298.3L542.7 2298.9L544.1 2299.5L545.4 2300.1L546.8 2300.7L548.2 2301.3L549.6 2301.9L550.9 2302.5L552.3 2303.1L553.7 2303.7L555.1 2304.3L556.4 2304.9L557.8 2305.5L559.2 2306.1L560.6 2306.7L561.9 2307.3L563.3 2307.9L564.7 2308.5L566 2309.2L567.4 2309.8L568.8 2310.4L570.1 2311L571.5 2311.6L572.9 2312.2L574.3 2312.8L575.6 2313.5L577 2314.1L578.3 2314.7L579.7 2315.3L581.1 2316L582.4 2316.6L583.8 2317.2L585.2 2317.9L586.5 2318.5L587.9 2319.2L589.2 2319.8L590.6 2320.4L591.9 2321.1L593.3 2321.8L594.6 2322.4L596 2323.1L597.3 2323.7L598.7 2324.4L600 2325L601.4 2325.7L602.7 2326.4L604.1 2327L605.4 2327.7L606.7 2328.4L608.1 2329L609.4 2329.7L610.8 2330.4L612.1 2331L613.5 2331.7L614.8 2332.4L616.2 2333L617.5 2333.7L618.8 2334.3L620.2 2335L621.5 2335.7L622.9 2336.3L624.2 2337L625.6 2337.6L626.9 2338.3L628.3 2338.9L629.6 2339.6L631 2340.2L632.4 2340.9L633.7 2341.5L635.1 2342.1L636.4 2342.8L637.8 2343.4L639.2 2344L640.5 2344.6L641.9 2345.2L643.3 2345.8L644.6 2346.4L646 2347L647.4 2347.6L648.8 2348.2L650.1 2348.8L651.5 2349.4L652.9 2350L654.3 2350.5L655.7 2351.1L657.1 2351.6L658.5 2352.2L659.9 2352.7L661.3 2353.2L662.7 2353.8L664.1 2354.3L665.5 2354.8L666.9 2355.3L668.3 2355.8L669.7 2356.3L671.2 2356.8L672.6 2357.3L674 2357.8L675.4 2358.2L676.8 2358.7L678.3 2359.2L679.7 2359.6L681.1 2360.1L682.6 2360.5L684 2360.9L685.4 2361.4L686.9 2361.8L688.3 2362.2L689.7 2362.6L691.2 2363L692.6 2363.4L694.1 2363.8L695.5 2364.2L697 2364.6L698.4 2365L699.9 2365.4L701.3 2365.8L702.8 2366.1L704.2 2366.5L705.7 2366.9L707.1 2367.2L708.6 2367.6L710.1 2367.9L711.5 2368.2L713 2368.6L714.4 2368.9L715.9 2369.2L717.4 2369.5L718.8 2369.9L720.3 2370.2L721.8 2370.5L723.2 2370.8L724.7 2371.1L726.2 2371.4L727.7 2371.7L729.1 2372L730.6 2372.2L732.1 2372.5L733.5 2372.8L735 2373.1L736.5 2373.3L738 2373.6L739.4 2373.9L740.9 2374.1L742.4 2374.4L743.9 2374.6L745.4 2374.9L746.8 2375.1L748.3 2375.4L749.8 2375.6L751.3 2375.9L752.8 2376.1L754.2 2376.3L755.7 2376.6L757.2 2376.8L758.7 2377L760.2 2377.3L761.6 2377.5L763.1 2377.7L764.6 2377.9L766.1 2378.1L767.6 2378.4L769.1 2378.6L770.6 2378.8L772 2379L773.5 2379.2L775 2379.4L776.5 2379.6L778 2379.8L779.5 2380L781 2380.2L782.4 2380.4L783.9 2380.6L785.4 2380.8L786.9 2381L788.4 2381.2L789.9 2381.4L791.4 2381.6L792.8 2381.8L794.3 2382L795.8 2382.2L797.3 2382.4L798.8 2382.6L800.3 2382.8L801.8 2383L803.3 2383.2L804.7 2383.4L806.2 2383.6L807.7 2383.7L809.2 2383.9L810.7 2384.1L812.2 2384.3L813.7 2384.5L815.2 2384.7L816.7 2384.9L818.1 2385L819.6 2385.2L821.1 2385.4L822.6 2385.6L824.1 2385.8L825.6 2385.9L827.1 2386.1L828.6 2386.3L830.1 2386.5L831.5 2386.6L833 2386.8L834.5 2387L836 2387.2L837.5 2387.3L839 2387.5L840.5 2387.7L842 2387.8L843.5 2388L845 2388.2L846.5 2388.3L847.9 2388.5L849.4 2388.7L850.9 2388.8L852.4 2389L853.9 2389.2L855.4 2389.3L856.9 2389.5L858.4 2389.6L859.9 2389.8L861.4 2389.9L862.9 2390.1L864.3 2390.3L865.8 2390.4L867.3 2390.6L868.8 2390.7L870.3 2390.9L871.8 2391L873.3 2391.2L874.8 2391.3L876.3 2391.5L877.8 2391.6L879.3 2391.8L880.8 2391.9L882.3 2392.1L883.7 2392.2L885.2 2392.4L886.7 2392.5L888.2 2392.7L889.7 2392.8L891.2 2392.9L892.7 2393.1L894.2 2393.2L895.7 2393.4L897.2 2393.5L898.7 2393.6L900.2 2393.8L901.7 2393.9L903.2 2394.1L904.7 2394.2L906.1 2394.3L907.6 2394.5L909.1 2394.6L910.6 2394.7L912.1 2394.9L913.6 2395L915.1 2395.1L916.6 2395.3L918.1 2395.4L919.6 2395.5L921.1 2395.6L922.6 2395.8L924.1 2395.9L925.6 2396L927.1 2396.1L928.6 2396.3L930.1 2396.4L931.6 2396.5L933 2396.6L934.5 2396.8L936 2396.9L937.5 2397L939 2397.1L940.5 2397.2L942 2397.4L943.5 2397.5L945 2397.6L946.5 2397.7L948 2397.8L949.5 2397.9L951 2398.1L952.5 2398.2L954 2398.3L955.5 2398.4L957 2398.5L958.5 2398.6L960 2398.7L961.5 2398.8L963 2398.9L964.5 2399.1L966 2399.2L967.4 2399.3L968.9 2399.4L970.4 2399.5L971.9 2399.6L973.4 2399.7L974.9 2399.8L976.4 2399.9L977.9 2400L979.4 2400.1L980.9 2400.2L982.4 2400.3L983.9 2400.4L985.4 2400.5L986.9 2400.6L988.4 2400.7L989.9 2400.8L991.4 2400.9L992.9 2401L994.4 2401.1L995.9 2401.2L997.4 2401.3L998.9 2401.4L1000.4 2401.4L1001.9 2401.5L1003.4 2401.6L1004.9 2401.7L1006.4 2401.8L1007.9 2401.9L1009.4 2402L1010.9 2402.1L1012.4 2402.2L1013.8 2402.3L1015.3 2402.3L1016.8 2402.4L1018.3 2402.5L1019.8 2402.6L1021.3 2402.7L1022.8 2402.8L1024.3 2402.8L1025.8 2402.9L1027.3 2403L1028.8 2403.1L1030.3 2403.2L1031.8 2403.3L1033.3 2403.3L1034.8 2403.4L1036.3 2403.5L1037.8 2403.6L1039.3 2403.6L1040.8 2403.7L1042.3 2403.8L1043.8 2403.9L1045.3 2404L1046.8 2404L1048.3 2404.1L1049.8 2404.2L1051.3 2404.2L1052.8 2404.3L1054.3 2404.4L1055.8 2404.5L1057.3 2404.5L1058.8 2404.6L1060.3 2404.7L1061.8 2404.7L1063.3 2404.8L1064.8 2404.9L1066.3 2404.9L1067.8 2405L1069.3 2405.1L1070.8 2405.1L1072.3 2405.2L1073.8 2405.3L1075.3 2405.3L1076.8 2405.4L1078.3 2405.5L1079.8 2405.5L1081.3 2405.6L1082.8 2405.7L1084.3 2405.7L1085.8 2405.8L1087.3 2405.8L1088.8 2405.9L1090.3 2406L1091.8 2406L1093.3 2406.1L1094.8 2406.1L1096.3 2406.2L1097.8 2406.2L1099.3 2406.3L1100.8 2406.4L1102.2 2406.4L1103.7 2406.5L1105.2 2406.5L1106.7 2406.6L1108.2 2406.6L1109.7 2406.7L1111.2 2406.7L1112.7 2406.8L1114.2 2406.8L1115.7 2406.9L1117.2 2406.9L1118.7 2407L1120.2 2407L1121.7 2407.1L1123.2 2407.1L1124.7 2407.2L1126.2 2407.2L1127.7 2407.3L1129.2 2407.3L1130.7 2407.4L1132.2 2407.4L1133.7 2407.5L1135.2 2407.5L1136.7 2407.6L1138.2 2407.6L1139.7 2407.7L1141.2 2407.7L1142.7 2407.7L1144.2 2407.8L1145.7 2407.8L1147.2 2407.9L1148.7 2407.9L1150.2 2407.9L1151.7 2408L1153.2 2408L1154.7 2408.1L1156.2 2408.1L1157.7 2408.1L1159.2 2408.2L1160.7 2408.2L1162.2 2408.3L1163.7 2408.3L1165.2 2408.3L1166.7 2408.4L1168.2 2408.4L1169.7 2408.4L1171.2 2408.5L1172.7 2408.5L1174.2 2408.6L1175.7 2408.6L1177.2 2408.6L1178.7 2408.7L1180.2 2408.7L1181.7 2408.7L1183.2 2408.8L1184.7 2408.8L1186.2 2408.8L1187.7 2408.9L1189.2 2408.9L1190.7 2408.9L1192.2 2408.9L1193.7 2409L1195.2 2409L1196.7 2409L1198.2 2409.1L1199.7 2409.1L1201.2 2409.1L1202.7 2409.1L1204.2 2409.2L1205.7 2409.2L1207.2 2409.2L1208.7 2409.3L1210.2 2409.3L1211.7 2409.3L1213.2 2409.3L1214.7 2409.4L1216.2 2409.4L1217.7 2409.4L1219.2 2409.4L1220.7 2409.5L1222.2 2409.5L1223.7 2409.5L1225.2 2409.5L1226.7 2409.6L1228.2 2409.6L1229.7 2409.6L1231.2 2409.6L1232.7 2409.6L1234.2 2409.7L1235.7 2409.7L1237.2 2409.7L1238.7 2409.7L1240.2 2409.7L1241.7 2409.8L1243.2 2409.8L1244.7 2409.8L1246.2 2409.8L1247.7 2409.8L1249.2 2409.9L1250.7 2409.9L1252.2 2409.9L1253.7 2409.9L1255.2 2409.9L1256.7 2409.9L1258.2 2410L1259.7 2410L1261.2 2410L1262.7 2410L1264.2 2410L1265.7 2410L1267.2 2410.1L1268.7 2410.1L1270.2 2410.1L1271.7 2410.1L1273.2 2410.1L1274.7 2410.1L1276.2 2410.1L1277.7 2410.2L1279.2 2410.2L1280.7 2410.2L1282.2 2410.2L1283.7 2410.2L1285.2 2410.2L1286.7 2410.2L1288.2 2410.2L1289.7 2410.3L1291.2 2410.3L1292.7 2410.3L1294.2 2410.3L1295.7 2410.3L1297.2 2410.3L1298.7 2410.3L1300.2 2410.3L1301.7 2410.3L1303.2 2410.4L1304.7 2410.4L1306.2 2410.4L1307.7 2410.4L1309.2 2410.4L1310.7 2410.4L1312.2 2410.4L1313.7 2410.4L1315.2 2410.4L1316.7 2410.4L1318.2 2410.4L1319.7 2410.4L1321.2 2410.5L1322.7 2410.5L1324.2 2410.5L1325.7 2410.5L1327.2 2410.5L1328.7 2410.5L1330.2 2410.5L1331.7 2410.5L1333.2 2410.5L1334.7 2410.5L1336.2 2410.5L1337.7 2410.5L1339.2 2410.5L1340.7 2410.5L1342.2 2410.5L1343.7 2410.5L1345.2 2410.6L1346.7 2410.6L1348.2 2410.6L1349.7 2410.6L1351.2 2410.6L1352.7 2410.6L1354.2 2410.6L1355.7 2410.6L1357.2 2410.6L1358.7 2410.6L1360.2 2410.6L1361.7 2410.6L1363.2 2410.6L1364.7 2410.6L1366.2 2410.6L1367.7 2410.6L1369.2 2410.6L1370.7 2410.6L1372.2 2410.6L1373.7 2410.6L1375.2 2410.6L1376.7 2410.6L1378.2 2410.6L1379.7 2410.6L1381.2 2410.6L1382.7 2410.6L1384.2 2410.6L1385.7 2410.6L1387.2 2410.6L1388.7 2410.6L1390.2 2410.6L1391.7 2410.6L1393.2 2410.6L1394.7 2410.6L1396.2 2410.6L1397.7 2410.6L1399.2 2410.6L1400.7 2410.6L1402.2 2410.6L1403.7 2410.6L1405.2 2410.6L1406.7 2410.6L1408.2 2410.6L1409.7 2410.6L1411.2 2410.6L1412.7 2410.6L1414.2 2410.6L1415.7 2410.7L1417.2 2410.7L1418.7 2410.7L1420.2 2410.7L1421.7 2410.7L1423.2 2410.7L1424.7 2410.7L1426.2 2410.7L1427.7 2410.7L1429.2 2410.7L1430.7 2410.6L1432.2 2410.6L1433.7 2410.6L1435.2 2410.6L1436.7 2410.6L1438.2 2410.6L1439.7 2410.6L1441.2 2410.6L1442.7 2410.6L1444.2 2410.6L1445.7 2410.6L1447.2 2410.6L1448.7 2410.6L1450.2 2410.6L1451.7 2410.6L1453.2 2410.6L1454.7 2410.6L1456.2 2410.6L1457.7 2410.6L1459.2 2410.6L1460.7 2410.6L1462.2 2410.6L1463.7 2410.6L1465.2 2410.6L1466.7 2410.6L1468.2 2410.6L1469.7 2410.6L1471.2 2410.6L1472.7 2410.6L1474.2 2410.6L1475.7 2410.6L1477.2 2410.6L1478.7 2410.6L1480.2 2410.6L1481.7 2410.6L1483.2 2410.6L1484.7 2410.6L1486.2 2410.6L1487.7 2410.6L1489.2 2410.6L1490.7 2410.6L1492.2 2410.6L1493.7 2410.6L1495.2 2410.6L1496.7 2410.6L1498.2 2410.6L1499.7 2410.6L1501.2 2410.6L1502.7 2410.6L1504.2 2410.6L1505.7 2410.6L1507.2 2410.6L1508.7 2410.6L1510.2 2410.7L1511.7 2410.7L1513.2 2410.7L1514.7 2410.7L1516.2 2410.7L1517.7 2410.7L1519.2 2410.7L1520.7 2410.7L1522.2 2410.7L1523.7 2410.7L1525.2 2410.7L1526.7 2410.7L1528.2 2410.7L1529.7 2410.7L1531.2 2410.7L1532.7 2410.7L1534.2 2410.7L1535.7 2410.7L1537.2 2410.7L1538.7 2410.7L1540.2 2410.7L1541.7 2410.7L1543.2 2410.7L1544.7 2410.7L1546.2 2410.7L1547.7 2410.7L1549.2 2410.7L1550.7 2410.7L1552.2 2410.7L1553.7 2410.7L1555.2 2410.7L1556.7 2410.7L1558.2 2410.7L1559.7 2410.7L1561.2 2410.8L1562.7 2410.8L1564.2 2410.8L1565.7 2410.8L1567.2 2410.8L1568.7 2410.8L1570.2 2410.8L1571.7 2410.8L1573.2 2410.8L1574.7 2410.8L1576.2 2410.8L1577.7 2410.8L1579.2 2410.8L1580.7 2410.8L1582.2 2410.8L1583.7 2410.8L1585.2 2410.9L1586.7 2410.9L1588.2 2410.9L1589.7 2410.9L1591.2 2410.9L1592.7 2410.9L1594.2 2410.9L1595.7 2410.9L1597.2 2410.9L1598.7 2410.9L1600.2 2410.9L1601.7 2411L1603.2 2411L1604.7 2411L1606.2 2411L1607.7 2411L1609.2 2411L1610.7 2411L1612.2 2411L1613.7 2411L1615.2 2411L1616.7 2411.1L1618.2 2411.1L1619.7 2411.1L1621.2 2411.1L1622.7 2411.1L1624.2 2411.1L1625.7 2411.1L1627.2 2411.2L1628.7 2411.2L1630.2 2411.2L1631.7 2411.2L1633.2 2411.2L1634.7 2411.2L1636.2 2411.2L1637.7 2411.3L1639.2 2411.3L1640.7 2411.3L1642.2 2411.3L1643.7 2411.3L1645.2 2411.3L1646.7 2411.4L1648.2 2411.4L1649.7 2411.4L1651.2 2411.4L1652.7 2411.4L1654.2 2411.4L1655.7 2411.5L1657.2 2411.5L1658.7 2411.5L1660.2 2411.5L1661.7 2411.5L1663.2 2411.6L1664.7 2411.6L1666.2 2411.6L1667.7 2411.6L1669.2 2411.6L1670.7 2411.7L1672.2 2411.7L1673.7 2411.7L1675.2 2411.7L1676.7 2411.7L1678.2 2411.8L1679.7 2411.8L1681.2 2411.8L1682.7 2411.8L1684.2 2411.9L1685.7 2411.9L1687.2 2411.9L1688.7 2411.9L1690.2 2412L1691.7 2412L1693.2 2412L1694.7 2412L1696.2 2412.1L1697.7 2412.1L1699.2 2412.1L1700.7 2412.2L1702.2 2412.2L1703.7 2412.2L1705.2 2412.2L1706.7 2412.3L1708.2 2412.3L1709.7 2412.3L1711.2 2412.4L1712.7 2412.4L1714.2 2412.4L1715.7 2412.4L1717.2 2412.5L1718.7 2412.5L1720.2 2412.5L1721.7 2412.6L1723.2 2412.6L1724.7 2412.6L1726.2 2412.7L1727.7 2412.7L1729.2 2412.7L1730.7 2412.8L1732.2 2412.8L1733.7 2412.9L1735 2412.9" fill="none" stroke="#008000" stroke-width="6.5" stroke-linejoin="round" stroke-linecap="butt" clip-path="url(#cb)"/>
<path d="M228.5 1951.4L229 1950L229.5 1948.6L230 1947.2L230.5 1945.7L231 1944.3L231.4 1942.9L231.9 1941.5L232.4 1940.1L232.9 1938.7L233.4 1937.2L233.9 1935.8L234.4 1934.4L234.9 1933L235.4 1931.6L235.9 1930.2L236.4 1928.7L236.9 1927.3L237.3 1925.9L237.8 1924.5L238.3 1923.1L238.8 1921.7L239.3 1920.2L239.8 1918.8L240.3 1917.4L240.8 1916L241.3 1914.6L241.8 1913.2L242.3 1911.7L242.8 1910.3L243.2 1908.9L243.7 1907.5L244.2 1906.1L244.7 1904.7L245.2 1903.2L245.7 1901.8L246.2 1900.4L246.7 1899L247.2 1897.6L247.7 1896.2L248.2 1894.7L248.7 1893.3L249.2 1891.9L249.7 1890.5L250.2 1889.1L250.6 1887.7L251.1 1886.2L251.6 1884.8L252.1 1883.4L252.6 1882L253.1 1880.6L253.6 1879.2L254.1 1877.8L254.6 1876.3L255.1 1874.9L255.6 1873.5L256.1 1872.1L256.6 1870.7L257.1 1869.3L257.6 1867.9L258.1 1866.4L258.6 1865L259.1 1863.6L259.6 1862.2L260.1 1860.8L260.6 1859.4L261.1 1858L261.6 1856.5L262.1 1855.1L262.6 1853.7L263.1 1852.3L263.6 1850.9L264.1 1849.5L264.6 1848.1L265.1 1846.7L265.6 1845.2L266.1 1843.8L266.6 1842.4L267.1 1841L267.6 1839.6L268.1 1838.2L268.6 1836.8L269.2 1835.4L269.7 1833.9L270.2 1832.5L270.7 1831.1L271.2 1829.7L271.7 1828.3L272.2 1826.9L272.7 1825.5L273.2 1824.1L273.7 1822.7L274.3 1821.3L274.8 1819.9L275.3 1818.4L275.8 1817L276.3 1815.6L276.8 1814.2L277.3 1812.8L277.9 1811.4L278.4 1810L278.9 1808.6L279.4 1807.2L279.9 1805.8L280.5 1804.4L281 1803L281.5 1801.6L282 1800.2L282.6 1798.8L283.1 1797.4L283.6 1796L284.2 1794.6L284.7 1793.2L285.2 1791.8L285.8 1790.4L286.3 1789L286.9 1787.6L287.4 1786.2L288 1784.8L288.5 1783.4L289.1 1782L289.6 1780.6L290.2 1779.3L290.8 1777.9L291.3 1776.5L291.9 1775.1L292.5 1773.7L293.1 1772.4L293.7 1771L294.3 1769.6L294.8 1768.2L295.4 1766.9L296.1 1765.5L296.7 1764.1L297.3 1762.8L297.9 1761.4L298.5 1760.1L299.2 1758.7L299.8 1757.4L300.5 1756L301.1 1754.7L301.8 1753.4L302.5 1752L303.1 1750.7L303.8 1749.4L304.5 1748.1L305.2 1746.8L306 1745.5L306.7 1744.2L307.5 1742.9L308.2 1741.6L309 1740.4L309.8 1739.1L310.6 1737.9L311.4 1736.6L312.3 1735.4L313.2 1734.2L314.1 1733L315 1731.9L315.9 1730.7L316.9 1729.6L317.8 1728.5L318.9 1727.4L319.9 1726.4L321 1725.3L322.1 1724.3L323.2 1723.4L324.3 1722.4L325.5 1721.6L326.7 1720.7L328 1719.9L329.3 1719.2L330.6 1718.5L331.9 1717.8L333.3 1717.2L334.7 1716.7L336.1 1716.3L337.5 1715.9L339 1715.5L340.4 1715.3L341.9 1715.1L343.4 1715L344.9 1714.9L346.4 1714.9L347.9 1715L349.4 1715.1L350.9 1715.2L352.4 1715.4L353.9 1715.7L355.4 1716L356.8 1716.3L358.3 1716.7L359.7 1717.1L361.2 1717.5L362.6 1718L364 1718.5L365.4 1719.1L366.8 1719.8L368.1 1720.5L369.4 1721.2L370.7 1722L372 1722.9L373.2 1723.8L374.4 1724.7L375.6 1725.7L376.7 1726.7L377.8 1727.8L378.8 1728.9L379.8 1730L380.8 1731.2L381.8 1732.4L382.7 1733.6L383.6 1734.8L384.5 1736L385.4 1737.2L386.3 1738.5L387.1 1739.8L387.9 1741L388.7 1742.3L389.5 1743.6L390.3 1744.9L391 1746.2L391.8 1747.5L392.5 1748.8L393.3 1750.2L394 1751.5L394.7 1752.8L395.4 1754.1L396.1 1755.5L396.8 1756.8L397.5 1758.2L398.2 1759.5L398.8 1760.9L399.5 1762.2L400.2 1763.6L400.8 1764.9L401.5 1766.3L402.1 1767.6L402.8 1769L403.4 1770.3L404.1 1771.7L404.7 1773.1L405.3 1774.4L406 1775.8L406.6 1777.2L407.2 1778.5L407.8 1779.9L408.5 1781.3L409.1 1782.6L409.7 1784L410.3 1785.4L410.9 1786.7L411.5 1788.1L412.2 1789.5L412.8 1790.8L413.4 1792.2L414 1793.6L414.6 1794.9L415.2 1796.3L415.8 1797.7L416.4 1799L417.1 1800.4L417.7 1801.8L418.3 1803.2L418.9 1804.5L419.5 1805.9L420.1 1807.3L420.8 1808.6L421.4 1810L422 1811.3L422.6 1812.7L423.2 1814.1L423.9 1815.4L424.5 1816.8L425.1 1818.2L425.7 1819.5L426.4 1820.9L427 1822.2L427.6 1823.6L428.2 1825L428.9 1826.3L429.5 1827.7L430.1 1829L430.8 1830.4L431.4 1831.8L432.1 1833.1L432.7 1834.5L433.3 1835.8L434 1837.2L434.6 1838.5L435.3 1839.9L435.9 1841.2L436.5 1842.6L437.2 1843.9L437.8 1845.3L438.5 1846.6L439.1 1848L439.8 1849.3L440.4 1850.7L441.1 1852L441.8 1853.4L442.4 1854.7L443.1 1856.1L443.7 1857.4L444.4 1858.8L445.1 1860.1L445.7 1861.5L446.4 1862.8L447.1 1864.1L447.7 1865.5L448.4 1866.8L449.1 1868.2L449.7 1869.5L450.4 1870.8L451.1 1872.2L451.8 1873.5L452.5 1874.8L453.1 1876.2L453.8 1877.5L454.5 1878.8L455.2 1880.2L455.9 1881.5L456.6 1882.8L457.3 1884.2L458 1885.5L458.7 1886.8L459.4 1888.1L460.1 1889.4L460.8 1890.8L461.5 1892.1L462.2 1893.4L462.9 1894.7L463.6 1896L464.3 1897.4L465.1 1898.7L465.8 1900L466.5 1901.3L467.2 1902.6L467.9 1903.9L468.7 1905.2L469.4 1906.5L470.1 1907.8L470.9 1909.1L471.6 1910.4L472.4 1911.7L473.1 1913L473.9 1914.3L474.6 1915.6L475.4 1916.9L476.1 1918.2L476.9 1919.5L477.6 1920.8L478.4 1922.1L479.2 1923.4L479.9 1924.7L480.7 1925.9L481.5 1927.2L482.3 1928.5L483.1 1929.8L483.8 1931L484.6 1932.3L485.4 1933.6L486.2 1934.8L487 1936.1L487.8 1937.4L488.6 1938.6L489.5 1939.9L490.3 1941.1L491.1 1942.4L491.9 1943.6L492.8 1944.9L493.6 1946.1L494.4 1947.4L495.3 1948.6L496.1 1949.8L497 1951.1L497.8 1952.3L498.7 1953.5L499.6 1954.7L500.4 1955.9L501.3 1957.2L502.2 1958.4L503.1 1959.6L504 1960.8L504.9 1962L505.8 1963.2L506.7 1964.4L507.6 1965.5L508.5 1966.7L509.4 1967.9L510.4 1969.1L511.3 1970.2L512.2 1971.4L513.2 1972.5L514.1 1973.7L515.1 1974.8L516.1 1976L517.1 1977.1L518 1978.2L519 1979.3L520 1980.4L521.1 1981.5L522.1 1982.6L523.1 1983.7L524.1 1984.8L525.2 1985.9L526.2 1987L527.2 1988L528.3 1989.1L529.4 1990.1L530.4 1991.2L531.5 1992.2L532.6 1993.3L533.7 1994.3L534.7 1995.3L535.8 1996.4L536.9 1997.4L538 1998.4L539.1 1999.4L540.2 2000.4L541.3 2001.4L542.5 2002.4L543.6 2003.4L544.7 2004.4L545.8 2005.4L546.9 2006.4L548.1 2007.4L549.2 2008.4L550.3 2009.4L551.4 2010.4L552.6 2011.4L553.7 2012.4L554.8 2013.3L556 2014.3L557.1 2015.3L558.2 2016.3L559.3 2017.3L560.5 2018.3L561.6 2019.3L562.7 2020.3L563.8 2021.3L564.9 2022.3L566 2023.3L567.1 2024.4L568.2 2025.4L569.3 2026.4L570.4 2027.4L571.5 2028.5L572.6 2029.5L573.7 2030.6L574.8 2031.6L575.8 2032.7L576.9 2033.7L577.9 2034.8L579 2035.9L580 2037L581.1 2038L582.1 2039.1L583.1 2040.2L584.2 2041.4L585.2 2042.5L586.2 2043.6L587.2 2044.7L588.2 2045.8L589.1 2047L590.1 2048.1L591.1 2049.3L592.1 2050.5L593 2051.6L594 2052.8L594.9 2054L595.8 2055.1L596.8 2056.3L597.7 2057.5L598.6 2058.7L599.5 2059.9L600.4 2061.1L601.3 2062.3L602.2 2063.5L603.1 2064.7L604 2065.9L604.9 2067.1L605.8 2068.3L606.7 2069.5L607.6 2070.7L608.5 2071.9L609.4 2073.2L610.3 2074.4L611.1 2075.6L612 2076.8L612.9 2078L613.8 2079.2L614.7 2080.4L615.6 2081.6L616.4 2082.9L617.3 2084.1L618.2 2085.3L619.1 2086.5L620 2087.7L620.9 2088.9L621.8 2090.1L622.7 2091.3L623.6 2092.5L624.5 2093.7L625.4 2094.9L626.3 2096.1L627.2 2097.3L628.1 2098.4L629 2099.6L629.9 2100.8L630.9 2102L631.8 2103.1L632.7 2104.3L633.7 2105.5L634.6 2106.6L635.6 2107.8L636.5 2108.9L637.5 2110.1L638.5 2111.2L639.5 2112.3L640.4 2113.5L641.4 2114.6L642.4 2115.7L643.4 2116.8L644.4 2117.9L645.4 2119.1L646.4 2120.2L647.4 2121.3L648.5 2122.4L649.5 2123.4L650.5 2124.5L651.5 2125.6L652.6 2126.7L653.6 2127.8L654.7 2128.8L655.7 2129.9L656.8 2131L657.9 2132L658.9 2133.1L660 2134.1L661.1 2135.1L662.1 2136.2L663.2 2137.2L664.3 2138.2L665.4 2139.3L666.5 2140.3L667.6 2141.3L668.7 2142.3L669.8 2143.3L670.9 2144.3L672 2145.3L673.1 2146.3L674.3 2147.3L675.4 2148.3L676.5 2149.3L677.6 2150.3L678.8 2151.3L679.9 2152.3L681 2153.2L682.2 2154.2L683.3 2155.2L684.5 2156.1L685.6 2157.1L686.8 2158.1L687.9 2159L689.1 2160L690.2 2160.9L691.4 2161.9L692.5 2162.8L693.7 2163.8L694.9 2164.7L696 2165.7L697.2 2166.6L698.4 2167.6L699.5 2168.5L700.7 2169.5L701.9 2170.4L703 2171.3L704.2 2172.3L705.4 2173.2L706.5 2174.2L707.7 2175.1L708.9 2176L710 2177L711.2 2177.9L712.4 2178.8L713.6 2179.8L714.7 2180.7L715.9 2181.6L717.1 2182.5L718.3 2183.5L719.5 2184.4L720.7 2185.3L721.9 2186.2L723.1 2187L724.3 2187.9L725.5 2188.8L726.7 2189.7L728 2190.5L729.2 2191.4L730.4 2192.2L731.7 2193L732.9 2193.8L734.2 2194.6L735.5 2195.4L736.7 2196.2L738 2197L739.3 2197.8L740.6 2198.5L741.9 2199.3L743.2 2200L744.5 2200.7L745.8 2201.5L747.1 2202.2L748.5 2202.9L749.8 2203.6L751.1 2204.2L752.5 2204.9L753.8 2205.6L755.1 2206.2L756.5 2206.9L757.8 2207.5L759.2 2208.2L760.6 2208.8L761.9 2209.4L763.3 2210L764.7 2210.6L766.1 2211.2L767.4 2211.8L768.8 2212.4L770.2 2212.9L771.6 2213.5L773 2214.1L774.4 2214.6L775.8 2215.2L777.1 2215.7L778.5 2216.3L779.9 2216.8L781.3 2217.4L782.7 2217.9L784.1 2218.4L785.6 2218.9L787 2219.5L788.4 2220L789.8 2220.5L791.2 2221L792.6 2221.5L794 2222.1L795.4 2222.6L796.8 2223.1L798.2 2223.6L799.6 2224.1L801.1 2224.6L802.5 2225.1L803.9 2225.6L805.3 2226.1L806.7 2226.6L808.1 2227.1L809.5 2227.6L810.9 2228.1L812.4 2228.6L813.8 2229.1L815.2 2229.6L816.6 2230.1L818 2230.6L819.4 2231.1L820.8 2231.6L822.3 2232.1L823.7 2232.6L825.1 2233.1L826.5 2233.6L827.9 2234.1L829.3 2234.6L830.7 2235.1L832.2 2235.6L833.6 2236.1L835 2236.6L836.4 2237.1L837.8 2237.7L839.2 2238.2L840.6 2238.7L842 2239.2L843.4 2239.7L844.8 2240.2L846.3 2240.7L847.7 2241.3L849.1 2241.8L850.5 2242.3L851.9 2242.8L853.3 2243.4L854.7 2243.9L856.1 2244.4L857.5 2245L858.9 2245.5L860.3 2246.1L861.7 2246.6L863.1 2247.1L864.5 2247.7L865.9 2248.3L867.3 2248.8L868.7 2249.4L870.1 2249.9L871.4 2250.5L872.8 2251.1L874.2 2251.6L875.6 2252.2L877 2252.8L878.4 2253.4L879.8 2253.9L881.1 2254.5L882.5 2255.1L883.9 2255.7L885.3 2256.3L886.7 2256.8L888.1 2257.4L889.4 2258L890.8 2258.6L892.2 2259.2L893.6 2259.7L895 2260.3L896.4 2260.9L897.8 2261.5L899.1 2262L900.5 2262.6L901.9 2263.2L903.3 2263.7L904.7 2264.3L906.1 2264.8L907.5 2265.4L908.9 2266L910.3 2266.5L911.7 2267L913.1 2267.6L914.5 2268.1L915.9 2268.6L917.3 2269.2L918.7 2269.7L920.1 2270.2L921.5 2270.7L922.9 2271.2L924.3 2271.8L925.7 2272.3L927.1 2272.8L928.5 2273.3L930 2273.7L931.4 2274.2L932.8 2274.7L934.2 2275.2L935.6 2275.7L937.1 2276.1L938.5 2276.6L939.9 2277.1L941.3 2277.5L942.8 2278L944.2 2278.4L945.6 2278.9L947.1 2279.3L948.5 2279.8L949.9 2280.2L951.4 2280.6L952.8 2281.1L954.2 2281.5L955.7 2281.9L957.1 2282.3L958.6 2282.7L960 2283.1L961.5 2283.6L962.9 2283.9L964.3 2284.3L965.8 2284.7L967.2 2285.1L968.7 2285.5L970.1 2285.9L971.6 2286.2L973.1 2286.6L974.5 2287L976 2287.3L977.4 2287.7L978.9 2288L980.3 2288.4L981.8 2288.7L983.3 2289.1L984.7 2289.4L986.2 2289.7L987.6 2290.1L989.1 2290.4L990.6 2290.7L992 2291L993.5 2291.3L995 2291.6L996.4 2291.9L997.9 2292.2L999.4 2292.5L1000.9 2292.8L1002.3 2293.1L1003.8 2293.4L1005.3 2293.7L1006.8 2293.9L1008.2 2294.2L1009.7 2294.5L1011.2 2294.7L1012.7 2295L1014.1 2295.2L1015.6 2295.5L1017.1 2295.7L1018.6 2296L1020.1 2296.2L1021.5 2296.5L1023 2296.7L1024.5 2296.9L1026 2297.2L1027.5 2297.4L1028.9 2297.6L1030.4 2297.8L1031.9 2298L1033.4 2298.3L1034.9 2298.5L1036.4 2298.7L1037.9 2298.9L1039.3 2299.1L1040.8 2299.3L1042.3 2299.5L1043.8 2299.7L1045.3 2299.9L1046.8 2300.1L1048.3 2300.3L1049.7 2300.5L1051.2 2300.6L1052.7 2300.8L1054.2 2301L1055.7 2301.2L1057.2 2301.4L1058.7 2301.5L1060.2 2301.7L1061.7 2301.9L1063.1 2302.1L1064.6 2302.2L1066.1 2302.4L1067.6 2302.6L1069.1 2302.7L1070.6 2302.9L1072.1 2303.1L1073.6 2303.2L1075.1 2303.4L1076.6 2303.6L1078.1 2303.7L1079.5 2303.9L1081 2304.1L1082.5 2304.2L1084 2304.4L1085.5 2304.5L1087 2304.7L1088.5 2304.8L1090 2305L1091.5 2305.2L1093 2305.3L1094.5 2305.5L1096 2305.6L1097.4 2305.8L1098.9 2305.9L1100.4 2306.1L1101.9 2306.2L1103.4 2306.3L1104.9 2306.5L1106.4 2306.6L1107.9 2306.8L1109.4 2306.9L1110.9 2307.1L1112.4 2307.2L1113.9 2307.3L1115.4 2307.5L1116.9 2307.6L1118.4 2307.7L1119.8 2307.9L1121.3 2308L1122.8 2308.1L1124.3 2308.3L1125.8 2308.4L1127.3 2308.5L1128.8 2308.7L1130.3 2308.8L1131.8 2308.9L1133.3 2309.1L1134.8 2309.2L1136.3 2309.3L1137.8 2309.4L1139.3 2309.6L1140.8 2309.7L1142.3 2309.8L1143.8 2309.9L1145.3 2310L1146.7 2310.2L1148.2 2310.3L1149.7 2310.4L1151.2 2310.5L1152.7 2310.6L1154.2 2310.7L1155.7 2310.9L1157.2 2311L1158.7 2311.1L1160.2 2311.2L1161.7 2311.3L1163.2 2311.4L1164.7 2311.5L1166.2 2311.6L1167.7 2311.7L1169.2 2311.9L1170.7 2312L1172.2 2312.1L1173.7 2312.2L1175.2 2312.3L1176.7 2312.4L1178.2 2312.5L1179.7 2312.6L1181.2 2312.7L1182.7 2312.8L1184.2 2312.9L1185.6 2313L1187.1 2313.1L1188.6 2313.2L1190.1 2313.3L1191.6 2313.4L1193.1 2313.5L1194.6 2313.6L1196.1 2313.6L1197.6 2313.7L1199.1 2313.8L1200.6 2313.9L1202.1 2314L1203.6 2314.1L1205.1 2314.2L1206.6 2314.3L1208.1 2314.4L1209.6 2314.4L1211.1 2314.5L1212.6 2314.6L1214.1 2314.7L1215.6 2314.8L1217.1 2314.9L1218.6 2315L1220.1 2315L1221.6 2315.1L1223.1 2315.2L1224.6 2315.3L1226.1 2315.3L1227.6 2315.4L1229.1 2315.5L1230.6 2315.6L1232.1 2315.7L1233.6 2315.7L1235.1 2315.8L1236.6 2315.9L1238.1 2316L1239.6 2316L1241.1 2316.1L1242.6 2316.2L1244.1 2316.2L1245.6 2316.3L1247.1 2316.4L1248.5 2316.4L1250 2316.5L1251.5 2316.6L1253 2316.6L1254.5 2316.7L1256 2316.8L1257.5 2316.8L1259 2316.9L1260.5 2317L1262 2317L1263.5 2317.1L1265 2317.2L1266.5 2317.2L1268 2317.3L1269.5 2317.3L1271 2317.4L1272.5 2317.5L1274 2317.5L1275.5 2317.6L1277 2317.6L1278.5 2317.7L1280 2317.7L1281.5 2317.8L1283 2317.8L1284.5 2317.9L1286 2318L1287.5 2318L1289 2318.1L1290.5 2318.1L1292 2318.2L1293.5 2318.2L1295 2318.3L1296.5 2318.3L1298 2318.4L1299.5 2318.4L1301 2318.4L1302.5 2318.5L1304 2318.5L1305.5 2318.6L1307 2318.6L1308.5 2318.7L1310 2318.7L1311.5 2318.8L1313 2318.8L1314.5 2318.9L1316 2318.9L1317.5 2318.9L1319 2319L1320.5 2319L1322 2319.1L1323.5 2319.1L1325 2319.1L1326.5 2319.2L1328 2319.2L1329.5 2319.3L1331 2319.3L1332.5 2319.3L1334 2319.4L1335.5 2319.4L1337 2319.4L1338.5 2319.5L1340 2319.5L1341.5 2319.5L1343 2319.6L1344.5 2319.6L1346 2319.6L1347.5 2319.7L1349 2319.7L1350.5 2319.7L1352 2319.8L1353.5 2319.8L1355 2319.8L1356.5 2319.9L1358 2319.9L1359.5 2319.9L1361 2319.9L1362.5 2320L1364 2320L1365.5 2320L1367 2320L1368.5 2320.1L1370 2320.1L1371.5 2320.1L1373 2320.1L1374.5 2320.2L1376 2320.2L1377.5 2320.2L1379 2320.2L1380.5 2320.3L1382 2320.3L1383.5 2320.3L1385 2320.3L1386.5 2320.4L1388 2320.4L1389.5 2320.4L1391 2320.4L1392.5 2320.4L1394 2320.5L1395.5 2320.5L1397 2320.5L1398.5 2320.5L1400 2320.5L1401.5 2320.5L1403 2320.6L1404.5 2320.6L1406 2320.6L1407.5 2320.6L1409 2320.6L1410.5 2320.6L1412 2320.7L1413.5 2320.7L1415 2320.7L1416.5 2320.7L1418 2320.7L1419.5 2320.7L1421 2320.8L1422.5 2320.8L1424 2320.8L1425.5 2320.8L1427 2320.8L1428.5 2320.8L1430 2320.8L1431.5 2320.8L1433 2320.8L1434.5 2320.9L1436 2320.9L1437.5 2320.9L1439 2320.9L1440.5 2320.9L1442 2320.9L1443.5 2320.9L1445 2320.9L1446.5 2320.9L1448 2320.9L1449.5 2321L1451 2321L1452.5 2321L1454 2321L1455.5 2321L1457 2321L1458.5 2321L1460 2321L1461.5 2321L1463 2321L1464.5 2321L1466 2321L1467.5 2321L1469 2321L1470.5 2321.1L1472 2321.1L1473.5 2321.1L1475 2321.1L1476.5 2321.1L1478 2321.1L1479.5 2321.1L1481 2321.1L1482.5 2321.1L1484 2321.1L1485.5 2321.1L1487 2321.1L1488.5 2321.1L1490 2321.1L1491.5 2321.1L1493 2321.1L1494.5 2321.1L1496 2321.1L1497.5 2321.1L1499 2321.1L1500.5 2321.1L1502 2321.1L1503.5 2321.1L1505 2321.1L1506.5 2321.1L1508 2321.1L1509.5 2321.1L1511 2321.1L1512.5 2321.1L1514 2321.1L1515.5 2321.1L1517 2321.1L1518.5 2321.1L1520 2321.1L1521.5 2321.1L1523 2321.1L1524.5 2321.1L1526 2321.1L1527.5 2321.1L1529 2321.1L1530.5 2321.1L1532 2321.1L1533.5 2321.1L1535 2321.1L1536.5 2321.1L1538 2321.1L1539.5 2321.1L1541 2321.1L1542.5 2321.1L1544 2321.1L1545.5 2321.1L1547 2321.1L1548.5 2321.1L1550 2321.1L1551.5 2321.1L1553 2321.1L1554.5 2321.1L1556 2321.1L1557.5 2321.1L1559 2321.1L1560.5 2321.1L1562 2321.1L1563.5 2321.1L1565 2321.1L1566.5 2321.1L1568 2321.1L1569.5 2321.1L1571 2321.1L1572.5 2321.1L1574 2321.1L1575.5 2321.1L1577 2321.1L1578.5 2321.1L1580 2321.1L1581.5 2321.1L1583 2321.1L1584.5 2321.1L1586 2321.1L1587.5 2321.1L1589 2321.1L1590.5 2321.1L1592 2321.1L1593.5 2321.1L1595 2321.1L1596.5 2321.1L1598 2321.1L1599.5 2321.1L1601 2321.1L1602.5 2321.1L1604 2321.1L1605.5 2321.1L1607 2321.1L1608.5 2321.1L1610 2321.1L1611.5 2321.1L1613 2321.1L1614.5 2321.1L1616 2321.1L1617.5 2321.1L1619 2321.1L1620.5 2321.1L1622 2321.1L1623.5 2321.1L1625 2321.1L1626.5 2321.1L1628 2321.1L1629.5 2321.1L1631 2321.1L1632.5 2321.1L1634 2321.1L1635.5 2321.1L1637 2321.1L1638.5 2321.1L1640 2321.1L1641.5 2321.1L1643 2321.1L1644.5 2321.1L1646 2321.1L1647.5 2321.1L1649 2321.1L1650.5 2321.1L1652 2321.1L1653.5 2321.1L1655 2321.1L1656.5 2321.1L1658 2321.2L1659.5 2321.2L1661 2321.2L1662.5 2321.2L1664 2321.2L1665.5 2321.2L1667 2321.2L1668.5 2321.2L1670 2321.2L1671.5 2321.2L1673 2321.2L1674.5 2321.2L1676 2321.2L1677.5 2321.2L1679 2321.2L1680.5 2321.2L1682 2321.2L1683.5 2321.3L1685 2321.3L1686.5 2321.3L1688 2321.3L1689.5 2321.3L1691 2321.3L1692.5 2321.3L1694 2321.3L1695.5 2321.3L1697 2321.3L1698.5 2321.3L1700 2321.4L1701.5 2321.4L1703 2321.4L1704.5 2321.4L1706 2321.4L1707.5 2321.4L1709 2321.4L1710.5 2321.4L1712 2321.4L1713.5 2321.5L1715 2321.5L1716.5 2321.5L1718 2321.5L1719.5 2321.5L1721 2321.5L1722.5 2321.5L1724 2321.6L1725.5 2321.6L1727 2321.6L1728.5 2321.6L1730 2321.6L1731.5 2321.6L1733 2321.7L1734.5 2321.7L1735 2321.7" fill="none" stroke="#ff0000" stroke-width="6.5" stroke-linejoin="round" stroke-linecap="butt" clip-path="url(#cb)"/>
<text id="ay0" x="170.2" y="1199.1" style="font-family:'Liberation Sans', Arial, Helvetica, sans-serif;font-size:43px;" fill="#000">0</text>
<text id="ay2" x="171.2" y="914.4" style="font-family:'Liberation Sans', Arial, Helvetica, sans-serif;font-size:43px;" fill="#000">2</text>
<text id="ay4" x="170.2" y="629.5" style="font-family:'Liberation Sans', Arial, Helvetica, sans-serif;font-size:43px;" fill="#000">4</text>
<text id="ay6" x="171.2" y="343.9" style="font-family:'Liberation Sans', Arial, Helvetica, sans-serif;font-size:43px;" fill="#000">6</text>
<text id="ay8" x="171.2" y="59" style="font-family:'Liberation Sans', Arial, Helvetica, sans-serif;font-size:43px;" fill="#000">8</text>
<text id="by0" x="170.6" y="2618" style="font-family:'Liberation Sans', Arial, Helvetica, sans-serif;font-size:43px;" fill="#000">0</text>
<text id="by10" x="146.6" y="2362" style="font-family:'Liberation Sans', Arial, Helvetica, sans-serif;font-size:43px;" fill="#000">10</text>
<text id="by20" x="146.6" y="2107" style="font-family:'Liberation Sans', Arial, Helvetica, sans-serif;font-size:43px;" fill="#000">20</text>
<text id="by30" x="146.6" y="1851" style="font-family:'Liberation Sans', Arial, Helvetica, sans-serif;font-size:43px;" fill="#000">30</text>
<text id="by40" x="146.6" y="1596" style="font-family:'Liberation Sans', Arial, Helvetica, sans-serif;font-size:43px;" fill="#000">40</text>
<text id="ax200" x="192" y="1268" style="font-family:'Liberation Sans', Arial, Helvetica, sans-serif;font-size:43px;" fill="#000">200</text>
<text id="bx200" x="192" y="2676" style="font-family:'Liberation Sans', Arial, Helvetica, sans-serif;font-size:43px;" fill="#000">200</text>
<text id="ax300" x="407.2" y="1268" style="font-family:'Liberation Sans', Arial, Helvetica, sans-serif;font-size:43px;" fill="#000">300</text>
<text id="bx300" x="407.2" y="2676" style="font-family:'Liberation Sans', Arial, Helvetica, sans-serif;font-size:43px;" fill="#000">300</text>
<text id="ax400" x="623.3" y="1268" style="font-family:'Liberation Sans', Arial, Helvetica, sans-serif;font-size:43px;" fill="#000">400</text>
<text id="bx400" x="623.3" y="2676" style="font-family:'Liberation Sans', Arial, Helvetica, sans-serif;font-size:43px;" fill="#000">400</text>
<text id="ax500" x="838" y="1268" style="font-family:'Liberation Sans', Arial, Helvetica, sans-serif;font-size:43px;" fill="#000">500</text>
<text id="bx500" x="838" y="2676" style="font-family:'Liberation Sans', Arial, Helvetica, sans-serif;font-size:43px;" fill="#000">500</text>
<text id="ax600" x="1053" y="1268" style="font-family:'Liberation Sans', Arial, Helvetica, sans-serif;font-size:43px;" fill="#000">600</text>
<text id="bx600" x="1053" y="2676" style="font-family:'Liberation Sans', Arial, Helvetica, sans-serif;font-size:43px;" fill="#000">600</text>
<text id="ax700" x="1268.2" y="1268" style="font-family:'Liberation Sans', Arial, Helvetica, sans-serif;font-size:43px;" fill="#000">700</text>
<text id="bx700" x="1268.2" y="2676" style="font-family:'Liberation Sans', Arial, Helvetica, sans-serif;font-size:43px;" fill="#000">700</text>
<text id="ax800" x="1483.8" y="1268" style="font-family:'Liberation Sans', Arial, Helvetica, sans-serif;font-size:43px;" fill="#000">800</text>
<text id="bx800" x="1483.8" y="2676" style="font-family:'Liberation Sans', Arial, Helvetica, sans-serif;font-size:43px;" fill="#000">800</text>
<text id="ax900" x="1699" y="1268" style="font-family:'Liberation Sans', Arial, Helvetica, sans-serif;font-size:43px;" fill="#000">900</text>
<text id="bx900" x="1699" y="2676" style="font-family:'Liberation Sans', Arial, Helvetica, sans-serif;font-size:43px;" fill="#000">900</text>
<text id="axl" x="783" y="1350.2" style="font-family:'Liberation Sans', Arial, Helvetica, sans-serif;font-size:52.9px;" fill="#000">Wavelength (nm)</text>
<text id="bxl" x="784" y="2756.3" style="font-family:'Liberation Sans', Arial, Helvetica, sans-serif;font-size:52.7px;" fill="#000">Wavelength (nm)</text>
<text id="ayl" x="109" y="807.2" style="font-family:'Liberation Sans', Arial, Helvetica, sans-serif;font-size:52.5px;" fill="#000" transform="rotate(-90 109 807.2)">Kubelka-Munk units</text>
<text id="byl" x="87.5" y="2240.5" style="font-family:'Liberation Sans', Arial, Helvetica, sans-serif;font-size:52.7px;" fill="#000" transform="rotate(-90 87.5 2240.5)">Kubelka-Munk units</text>
<text id="a_mono" x="263.6" y="89.1" style="font-family:'Liberation Sans', Arial, Helvetica, sans-serif;font-size:31.5px;font-weight:bold;font-style:italic;" fill="#000">monomeric</text>
<text id="a_cu" x="248.4" y="159.3" style="font-family:'Liberation Sans', Arial, Helvetica, sans-serif;font-size:31.5px;font-weight:bold;font-style:italic;" fill="#000">Cu<tspan dy="-13.6" font-size="19">2+</tspan><tspan dy="13.6"> cations</tspan></text>
<text id="a_small" x="472.8" y="133.4" style="font-family:'Liberation Sans', Arial, Helvetica, sans-serif;font-size:31.2px;font-weight:bold;font-style:italic;" fill="#000">small CuO clusters</text>
<text id="a_cryst" x="817.9" y="133.4" style="font-family:'Liberation Sans', Arial, Helvetica, sans-serif;font-size:31px;font-weight:bold;font-style:italic;" fill="#000">CuO crystallites</text>
<text id="a_hyd" x="1266.3" y="133.3" style="font-family:'Liberation Sans', Arial, Helvetica, sans-serif;font-size:31.4px;font-weight:bold;font-style:italic;" fill="#000">hydrated Cu<tspan dy="-13.6" font-size="19">2+</tspan><tspan dy="13.6"> cations</tspan></text>
<text id="A" x="1557.6" y="336.8" style="font-family:'Liberation Sans', Arial, Helvetica, sans-serif;font-size:192.5px;font-weight:bold;" fill="#000" transform="translate(1627 0) scale(1.035 1) translate(-1627 0)">A</text>
<text id="l25" x="1348.6" y="948.6" style="font-family:'Liberation Sans', Arial, Helvetica, sans-serif;font-size:51.6px;" fill="#000">25Cu-MCM-41</text>
<text id="l50" x="1354.9" y="1166" style="font-family:'Liberation Sans', Arial, Helvetica, sans-serif;font-size:51.4px;" fill="#000">50Cu-MCM-41</text>
<text id="b_mono" x="255.4" y="1504.3" style="font-family:'Liberation Sans', Arial, Helvetica, sans-serif;font-size:32.2px;font-weight:bold;" fill="#000">monomeric</text>
<text id="b_olig" x="475.3" y="1504" style="font-family:'Liberation Sans', Arial, Helvetica, sans-serif;font-size:32px;font-weight:bold;" fill="#000">oligomeric</text>
<text id="b_fe" x="249.5" y="1572.9" style="font-family:'Liberation Sans', Arial, Helvetica, sans-serif;font-size:31.4px;font-weight:bold;" fill="#000">Fe<tspan dy="-13" font-size="20">3+</tspan><tspan dy="13"> cations</tspan></text>
<text id="b_fexoy" x="448" y="1573" style="font-family:'Liberation Sans', Arial, Helvetica, sans-serif;font-size:31.3px;font-weight:bold;" fill="#000">Fe<tspan dy="9" font-size="21">x</tspan><tspan dy="-9">O</tspan><tspan dy="9" font-size="21">y</tspan><tspan dy="-9"> clusters</tspan></text>
<text id="b_fe2o3" x="707.1" y="1534.7" style="font-family:'Liberation Sans', Arial, Helvetica, sans-serif;font-size:31.9px;font-weight:bold;" fill="#000">Fe<tspan dy="9" font-size="21">2</tspan><tspan dy="-9">O</tspan><tspan dy="9" font-size="21">3</tspan><tspan dy="-9" xml:space="preserve">  crystallites</tspan></text>
<text id="B" x="1558.9" y="1692.4" style="font-family:'Liberation Sans', Arial, Helvetica, sans-serif;font-size:192.5px;font-weight:bold;" fill="#000" transform="translate(1630.3 0) scale(0.959 1) translate(-1630.3 0)">B</text>
<text id="p256" x="310.4" y="1696.5" style="font-family:'Liberation Sans', Arial, Helvetica, sans-serif;font-size:48.5px;" fill="#000">256</text>
<text id="p250" x="296.2" y="2123.5" style="font-family:'Liberation Sans', Arial, Helvetica, sans-serif;font-size:48.6px;" fill="#000">250</text>
<text id="p245" x="284.3" y="2351.5" style="font-family:'Liberation Sans', Arial, Helvetica, sans-serif;font-size:48.6px;" fill="#000">245</text>
<text id="p243" x="285.3" y="2480" style="font-family:'Liberation Sans', Arial, Helvetica, sans-serif;font-size:47.3px;" fill="#000">243</text>
<text id="l10" x="1371.7" y="2284.8" style="font-family:'Liberation Sans', Arial, Helvetica, sans-serif;font-size:51.3px;" fill="#000">10Fe-MCM-41</text>
<text id="l20" x="1363.8" y="2380" style="font-family:'Liberation Sans', Arial, Helvetica, sans-serif;font-size:51.8px;" fill="#000">20Fe-MCM-41</text>
<text id="l50f" x="1374.1" y="2474.5" style="font-family:'Liberation Sans', Arial, Helvetica, sans-serif;font-size:51.8px;" fill="#000">50Fe-MCM-41</text>
<text id="l100" x="1360.1" y="2561.5" style="font-family:'Liberation Sans', Arial, Helvetica, sans-serif;font-size:51.3px;" fill="#000">100Fe-MCM-41</text>
</svg>
</div></body></html>
